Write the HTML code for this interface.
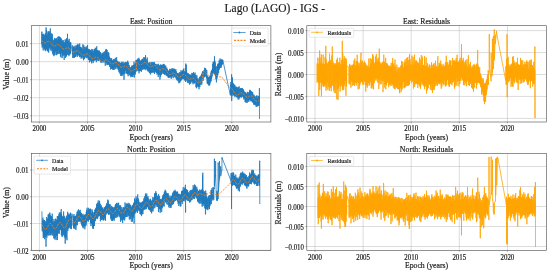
<!DOCTYPE html>
<html><head><meta charset="utf-8"><style>
html,body{margin:0;padding:0;background:#fff;}
body{width:550px;height:273px;overflow:hidden;}
svg{display:block;will-change:transform;}
text{font-family:"Liberation Serif", serif;fill:#1a1a1a;stroke:#1a1a1a;stroke-width:0.18px;}
.tk{font-size:7px;}
.ti{font-size:8px;}
.lg{font-size:6px;}
.mt{font-size:11px;}
</style></head><body>
<svg width="550" height="273" viewBox="0 0 550 273">
<path d="M39.40 25.7V122.0M87.50 25.7V122.0M135.60 25.7V122.0M183.70 25.7V122.0M231.80 25.7V122.0M31.4 43.60H270.9M31.4 61.65H270.9M31.4 79.70H270.9M31.4 97.75H270.9M31.4 115.80H270.9" stroke="#b0b0b0" stroke-width="0.45" fill="none"/>
<polyline points="41.53,44.09 41.67,33.75 41.87,31.93 42.01,43.79 42.21,47.59 42.35,35.41 42.56,34.06 42.69,46.26 42.90,37.44 43.03,47.13 43.24,50.40 43.37,34.15 43.58,45.97 43.72,33.82 43.92,36.17 44.06,48.20 44.26,35.24 44.40,49.28 44.60,37.41 44.74,48.09 44.94,35.27 45.08,50.46 45.28,46.00 45.42,33.23 45.63,51.13 45.76,35.83 45.97,47.99 46.10,27.47 46.31,49.64 46.44,29.92 46.65,33.19 46.79,48.83 46.99,33.88 47.13,48.88 47.33,50.77 47.47,35.22 47.67,50.44 47.81,34.44 48.01,31.32 48.15,51.86 48.36,32.19 48.49,45.99 48.70,52.64 48.83,31.29 49.04,32.34 49.17,47.91 49.38,33.04 49.52,47.40 49.72,31.83 49.86,45.53 50.06,49.47 50.20,32.08 50.40,28.41 50.54,47.56 50.74,37.26 50.88,50.21 51.08,33.57 51.22,43.63 51.43,48.29 51.56,36.22 51.77,33.48 51.90,51.29 52.11,49.05 52.24,37.80 52.45,34.41 52.59,52.10 52.79,53.54 52.93,40.07 53.13,42.81 53.27,54.88 53.47,54.11 53.61,40.25 53.81,40.58 53.95,56.20 54.16,53.90 54.29,39.03 54.50,54.05 54.63,37.98 54.84,40.27 54.97,55.04 55.18,39.16 55.32,52.17 55.52,52.08 55.66,38.55 55.86,38.74 56.00,52.01 56.20,39.53 56.34,55.18 56.54,50.83 56.68,37.92 56.88,39.05 57.02,54.35 57.23,41.02 57.36,52.87 57.57,40.21 57.70,53.67 57.91,37.04 58.04,49.53 58.25,40.12 58.39,49.86 58.59,37.62 58.73,53.90 58.93,36.49 59.07,49.39 59.27,41.97 59.41,53.51 59.61,36.94 59.75,47.55 59.96,53.24 60.09,38.13 60.30,40.30 60.43,56.33 60.64,37.33 60.77,54.39 60.98,57.31 61.12,38.87 61.32,43.04 61.46,51.89 61.66,39.28 61.80,53.44 62.00,44.44 62.14,58.12 62.34,55.16 62.48,40.43 62.68,54.52 62.82,41.95 63.03,56.04 63.16,42.71 63.37,54.48 63.50,43.62 63.71,40.14 63.84,54.65 64.05,44.62 64.19,59.51 64.39,43.56 64.53,54.44 64.73,42.60 64.87,54.82 65.07,54.76 65.21,39.27 65.41,43.51 65.55,57.45 65.76,41.36 65.89,54.59 66.10,56.20 66.23,39.96 66.44,56.46 66.57,38.62 66.78,42.39 66.92,53.06 67.12,54.11 67.26,40.89 67.46,37.40 67.50,34.10 67.60,54.72 67.80,53.76 67.94,40.26 68.14,42.62 68.28,54.79 68.48,55.07 68.62,42.82 68.83,41.03 68.96,56.15 69.17,39.06 69.30,52.10 69.51,53.65 69.64,44.05 69.85,54.64 69.99,42.81 70.19,52.50 70.33,42.40 70.53,53.94 70.67,42.20 72.53,54.06 72.67,45.76 72.87,57.79 73.00,47.66 73.20,58.04 73.34,49.11 73.54,54.95 73.67,46.80 73.87,46.48 74.00,57.19 74.20,46.98 74.34,57.92 74.54,55.95 74.67,48.47 74.87,48.43 75.01,56.88 75.21,45.47 75.34,56.91 75.54,54.71 75.68,48.82 75.88,48.26 76.01,56.41 76.21,54.42 76.34,45.62 76.54,54.26 76.68,46.34 76.88,54.58 77.01,46.07 77.21,44.63 77.35,56.88 77.55,45.42 77.68,54.27 77.88,43.84 78.02,55.29 78.22,46.42 78.35,54.68 78.55,54.85 78.68,45.67 78.88,44.71 79.02,55.63 79.22,47.09 79.35,54.59 79.55,57.16 79.69,43.83 79.89,55.18 80.02,48.02 80.22,56.07 80.36,46.88 80.56,47.79 80.69,56.59 80.89,47.62 81.02,58.65 81.22,58.22 81.36,47.65 81.56,58.04 81.69,48.25 81.89,57.90 82.03,49.25 82.23,49.21 82.36,56.41 82.56,56.61 82.70,50.59 82.90,44.68 83.03,56.28 83.23,59.00 83.36,50.04 83.56,60.01 83.70,45.14 83.90,56.98 84.03,49.89 84.23,49.09 84.37,55.10 84.57,58.66 84.70,46.78 84.90,57.35 85.04,49.47 85.24,57.01 85.37,47.52 85.57,47.86 85.70,54.66 85.91,55.54 86.04,47.27 86.24,46.73 86.37,57.35 86.57,57.97 86.71,47.79 86.91,55.00 87.04,48.90 87.24,58.34 87.38,49.32 87.58,44.95 87.71,56.72 87.91,57.17 88.04,48.72 88.25,49.14 88.38,55.72 88.58,60.02 88.71,49.51 88.91,59.37 89.05,49.54 89.25,50.46 89.38,62.34 89.58,60.58 89.72,49.70 89.92,60.32 90.05,51.53 90.25,50.63 90.38,59.65 90.59,57.12 90.72,49.98 90.92,61.23 91.05,53.16 91.25,51.93 91.39,60.77 91.59,63.35 91.72,49.42 91.92,59.36 92.06,52.03 92.26,60.93 92.39,51.10 92.59,61.04 92.72,50.40 92.93,49.12 93.06,63.12 93.26,60.21 93.39,52.10 93.59,61.48 93.73,52.85 93.93,50.45 94.06,59.49 94.26,60.73 94.40,50.91 94.60,49.00 94.73,59.86 94.93,50.29 95.06,60.06 95.27,47.77 95.40,60.50 95.60,50.53 95.73,58.32 95.93,48.05 96.07,59.65 96.27,51.13 96.40,62.20 96.60,58.75 96.74,46.30 96.94,59.35 97.07,50.15 97.27,60.18 97.40,50.29 97.61,58.03 97.74,50.44 97.94,50.71 98.07,59.17 98.27,50.95 98.41,60.99 98.61,52.69 98.74,60.97 98.94,58.28 99.08,50.30 99.28,59.21 99.41,51.41 99.61,59.65 99.75,51.93 99.95,59.76 100.08,53.14 100.28,60.72 100.41,52.18 100.61,54.71 100.75,59.36 100.95,62.72 101.08,53.48 101.28,62.33 101.42,54.99 101.62,55.64 101.75,60.52 101.95,61.40 102.09,53.60 102.29,52.77 102.42,62.29 102.62,62.03 102.75,52.95 102.95,61.00 103.09,54.75 103.29,62.17 103.42,53.41 103.62,52.55 103.76,61.96 103.96,62.53 104.09,51.79 104.29,53.12 104.43,60.63 104.63,61.12 104.76,51.48 104.96,53.16 105.09,61.00 105.29,65.84 105.43,50.91 105.63,59.44 105.76,49.43 105.96,62.54 106.10,52.82 106.30,61.20 106.43,49.06 106.60,51.00 106.63,63.22 106.77,52.69 106.97,64.75 107.10,50.37 107.30,54.82 107.43,62.73 107.63,64.63 107.77,54.06 107.97,52.73 108.10,64.94 108.30,52.30 108.44,63.88 108.64,63.26 108.77,53.00 108.97,55.46 109.11,64.75 109.31,56.63 109.44,65.38 109.64,66.82 109.77,57.66 109.97,65.41 110.11,58.14 110.31,60.48 110.44,67.03 110.64,69.14 110.78,59.26 110.98,59.24 111.11,66.94 111.31,58.80 111.45,68.88 111.65,58.19 111.78,67.32 111.98,60.79 112.11,67.87 112.31,61.03 112.45,69.60 112.65,60.72 112.78,67.11 112.98,60.25 113.12,67.15 113.32,69.37 113.45,61.33 113.65,59.20 113.79,69.42 113.99,59.08 114.12,69.84 114.32,67.78 114.45,60.60 114.65,67.88 114.79,60.26 114.99,67.40 115.12,59.31 115.32,58.17 115.46,68.42 115.66,69.10 115.79,60.30 115.99,60.09 116.13,67.16 116.33,66.95 116.46,58.92 116.66,57.10 116.79,66.64 116.99,68.47 117.13,61.42 117.33,60.74 117.46,67.57 117.66,66.94 117.80,61.34 118.00,69.33 118.13,62.66 118.33,69.29 118.47,62.14 118.67,63.04 118.80,69.89 119.00,72.32 119.13,62.09 119.33,63.86 119.47,71.37 119.67,62.65 119.80,70.96 120.00,73.90 120.14,63.29 120.34,65.60 120.47,74.73 120.67,75.42 120.81,62.91 121.01,71.75 121.14,63.81 121.34,62.58 121.47,75.14 121.68,62.86 121.81,75.63 122.01,62.01 122.14,74.32 122.34,75.54 122.48,63.55 122.68,74.27 122.81,63.73 123.01,72.54 123.15,62.08 123.35,64.11 123.48,73.89 123.68,64.66 123.81,72.65 124.02,79.38 124.15,63.63 124.35,72.12 124.48,63.99 124.68,74.13 124.82,63.81 125.02,62.37 125.15,70.24 125.35,62.07 125.49,69.94 125.69,70.70 125.82,63.57 126.02,73.45 126.15,63.11 126.36,62.88 126.49,73.07 126.69,72.53 126.82,62.21 127.02,73.47 127.16,62.30 127.36,74.20 127.49,64.61 127.69,60.72 127.83,73.10 128.03,67.49 128.16,76.26 128.36,62.42 128.49,73.91 128.70,67.11 128.83,73.21 129.03,72.95 129.16,65.16 129.36,65.06 129.50,75.10 129.70,74.87 129.83,68.78 130.03,67.40 130.17,75.02 130.37,75.67 130.50,67.50 130.70,69.24 130.83,77.23 131.04,75.29 131.17,67.19 131.37,69.23 131.50,76.09 131.70,65.74 131.84,75.26 132.04,67.81 132.17,74.84 132.37,65.77 132.51,76.78 132.71,67.23 132.84,76.02 133.04,76.55 133.17,65.72 133.38,74.97 133.51,65.27 133.71,74.38 133.84,68.10 134.04,61.67 134.18,74.06 134.38,77.57 134.51,64.33 134.71,74.14 134.85,65.26 135.05,74.64 135.18,65.54 135.38,73.04 135.51,65.14 135.72,63.06 135.85,71.71 136.05,59.99 136.18,70.04 136.38,61.91 136.52,69.45 136.72,60.62 136.85,71.26 137.05,59.96 137.19,70.46 137.39,69.74 137.52,59.63 137.72,58.64 137.86,68.28 138.06,67.26 138.19,59.85 138.39,59.22 138.52,70.82 138.72,69.99 138.86,57.79 139.06,73.29 139.19,59.11 139.39,62.23 139.53,70.57 139.73,61.62 139.86,70.02 140.06,71.04 140.20,60.52 140.40,60.94 140.53,70.94 140.73,60.77 140.86,67.14 141.06,61.93 141.20,68.45 141.40,60.51 141.53,71.32 141.73,69.00 141.87,59.97 142.07,67.82 142.20,59.25 142.40,70.00 142.54,58.75 142.74,60.22 142.87,68.63 143.07,68.61 143.20,61.51 143.40,68.47 143.54,60.23 143.74,57.26 143.87,69.50 144.07,59.26 144.21,69.18 144.41,68.25 144.54,57.40 144.74,68.58 144.88,58.54 145.08,57.94 145.21,66.23 145.41,68.84 145.54,55.57 145.74,59.24 145.88,69.96 146.08,67.87 146.21,59.39 146.41,60.23 146.55,67.43 146.75,69.10 146.88,61.13 147.08,68.56 147.22,57.55 147.42,62.01 147.55,69.82 147.75,70.76 147.88,62.84 148.08,71.54 148.22,63.20 148.42,70.34 148.55,63.33 148.75,70.97 148.89,63.59 149.09,71.81 149.22,62.23 149.42,73.25 149.56,63.87 149.76,72.61 149.89,63.85 150.09,62.84 150.22,70.58 150.42,65.53 150.56,74.45 150.76,70.62 150.89,65.39 151.09,72.43 151.23,61.97 151.43,72.68 151.56,64.11 151.76,63.14 151.90,70.45 152.10,73.02 152.23,64.32 152.43,64.14 152.56,72.21 152.76,62.13 152.90,70.22 153.10,62.46 153.23,71.49 153.43,69.98 153.57,63.30 153.77,72.23 153.90,64.06 154.10,72.35 154.24,62.10 154.44,62.75 154.57,74.07 154.77,63.67 154.90,71.00 155.10,64.71 155.24,70.98 155.44,65.28 155.57,71.68 155.77,64.28 155.91,70.75 156.11,72.53 156.24,66.02 156.44,65.60 156.58,72.99 156.78,73.04 156.91,64.40 157.11,74.63 157.24,65.63 157.44,72.72 157.58,64.73 157.78,65.55 157.91,74.00 158.11,67.62 158.25,76.96 158.45,63.82 158.58,74.78 158.78,73.70 158.92,65.52 159.12,68.59 159.25,73.95 159.45,75.01 159.58,67.44 159.79,65.72 159.92,79.58 160.12,74.46 160.25,67.10 160.45,64.61 160.59,76.73 160.79,74.06 160.92,66.89 161.12,64.64 161.26,74.97 161.46,71.69 161.59,65.34 161.79,65.79 161.92,73.47 162.13,65.28 162.26,71.34 162.46,65.01 162.59,71.76 162.79,64.90 162.93,73.51 163.13,71.61 163.26,65.95 163.46,64.24 163.60,70.79 163.80,74.04 163.93,65.65 164.13,73.82 164.26,64.17 164.47,74.75 164.60,65.59 164.80,66.78 164.93,72.73 165.13,66.43 165.27,72.97 165.47,74.50 165.60,66.41 165.80,65.49 165.94,73.65 166.14,68.64 166.27,75.80 166.47,68.15 166.60,74.45 166.81,67.58 166.94,75.27 167.14,76.23 167.27,69.33 167.47,69.44 167.61,75.79 167.81,70.64 167.94,76.67 168.14,70.95 168.28,77.67 168.48,77.03 168.61,71.28 168.81,71.00 168.94,76.47 169.15,71.66 169.28,77.08 169.48,70.62 169.61,77.48 169.81,69.26 169.95,77.07 170.15,69.37 170.28,76.68 170.48,77.02 170.62,71.14 170.82,77.57 170.95,69.96 171.15,70.74 171.28,78.45 171.49,76.87 171.62,69.75 171.82,68.96 171.95,75.73 172.15,68.41 172.29,76.42 172.49,75.71 172.62,68.69 172.82,70.30 172.96,75.30 173.16,78.19 173.29,70.30 173.49,69.10 173.62,74.32 173.83,68.84 173.96,77.05 174.16,75.90 174.29,69.22 174.49,76.16 174.63,69.85 174.83,71.47 174.96,74.99 175.16,70.29 175.30,77.47 175.50,75.57 175.63,70.96 175.83,69.53 175.97,77.83 176.17,78.72 176.30,71.26 176.50,71.68 176.63,79.38 176.83,80.16 176.97,73.31 177.17,79.11 177.30,73.16 177.50,80.17 177.64,73.18 177.84,79.80 177.97,73.09 178.17,73.78 178.31,81.56 178.51,74.06 178.64,78.55 178.84,74.71 178.97,83.02 179.17,79.59 179.31,72.15 179.51,72.99 179.64,82.70 179.84,73.50 179.98,82.27 180.18,80.10 180.31,72.08 180.51,72.41 180.65,80.82 180.85,79.43 180.98,70.19 181.18,74.06 181.31,80.37 181.51,78.15 181.65,71.36 181.85,78.94 181.98,72.81 182.18,78.72 182.32,72.05 182.52,77.71 182.65,70.90 182.85,78.61 182.99,69.92 183.19,79.20 183.32,69.61 183.52,78.21 183.65,69.72 183.85,68.84 183.99,79.08 184.19,71.67 184.32,77.78 184.52,71.94 184.66,79.94 184.86,80.00 184.99,72.33 185.19,78.83 185.33,71.33 185.53,81.99 185.66,69.00 185.80,63.90 185.86,71.77 185.99,79.78 186.19,71.66 186.30,65.20 186.33,78.25 186.53,70.42 186.66,79.30 186.86,73.27 187.00,81.49 187.20,72.69 187.33,80.38 187.53,74.73 187.67,82.60 187.87,82.45 188.00,73.40 188.20,73.08 188.33,82.12 188.53,83.08 188.67,75.67 188.87,74.12 189.00,81.32 189.20,74.94 189.34,82.82 189.54,84.66 189.67,77.03 189.87,74.26 190.01,82.07 190.21,74.89 190.34,82.26 190.54,75.62 190.67,83.47 190.87,82.93 191.01,75.56 191.21,80.78 191.34,74.85 191.54,76.86 191.68,81.50 191.88,73.27 192.01,80.54 192.21,82.42 192.35,74.49 192.55,81.18 192.68,73.59 192.88,73.00 193.01,84.24 193.21,73.62 193.35,82.23 193.55,71.98 193.68,82.00 193.88,81.71 194.02,74.90 194.22,83.61 194.35,74.01 194.55,76.71 194.69,82.55 194.89,82.15 195.02,72.91 195.22,74.77 195.35,81.43 195.55,76.53 195.69,82.28 195.89,75.03 196.02,86.83 196.22,77.46 196.36,87.91 196.56,78.52 196.69,86.34 196.89,75.38 197.03,87.30 197.23,79.00 197.36,85.03 197.56,78.85 197.69,85.66 197.90,86.10 198.03,79.75 198.23,78.39 198.36,86.45 198.56,86.58 198.70,81.85 198.90,80.99 199.03,89.24 199.23,79.80 199.37,86.84 199.57,76.83 199.70,86.28 199.90,86.63 200.03,77.40 200.24,80.27 200.37,84.87 200.57,83.35 200.70,75.70 200.90,83.38 201.04,76.63 201.24,75.90 201.37,81.33 201.57,74.18 201.71,84.74 201.91,82.57 202.04,74.86 202.24,72.80 202.37,80.42 202.58,72.38 202.71,79.17 202.91,71.05 203.04,80.92 203.24,77.88 203.38,71.08 203.58,76.29 203.71,71.86 203.91,70.51 204.05,77.60 204.25,70.45 204.38,76.71 204.58,75.88 204.71,67.80 204.92,74.87 205.05,68.13 205.25,69.01 205.38,73.69 205.58,76.41 205.72,68.67 205.92,68.93 206.05,76.28 206.25,77.02 206.39,72.17 206.59,78.46 206.72,70.15 206.92,74.34 207.05,80.85 207.26,83.66 207.39,75.67 207.59,83.46 207.72,77.52 207.92,78.71 208.06,83.63 208.26,84.53 208.39,77.60 208.59,76.75 208.73,84.58 208.93,77.58 209.06,85.44 209.26,78.16 209.39,84.73 209.60,76.82 209.73,84.97 209.93,82.77 210.06,76.79 210.26,82.59 210.40,75.62 210.60,81.01 210.73,75.64 210.93,72.65 211.07,80.95 211.27,71.11 211.40,78.74 211.60,70.31 211.74,77.88 211.94,70.15 212.07,76.18 212.27,73.98 212.40,68.38 212.60,73.54 212.74,63.90 212.94,73.71 213.07,62.31 213.27,61.82 213.41,72.03 213.61,62.22 213.74,72.46 213.94,69.46 214.08,61.47 214.28,72.40 214.41,60.32 214.50,56.60 214.61,73.56 214.74,60.79 214.94,62.03 215.08,74.67 215.28,62.50 215.41,76.26 215.61,67.19 215.75,75.09 215.95,79.03 216.08,66.19 216.28,68.45 216.42,82.38 216.62,79.40 216.75,71.64 216.95,78.59 217.08,67.14 217.28,65.91 217.42,76.80 217.62,64.31 217.75,74.73 217.95,75.12 218.09,63.59 218.29,71.31 218.42,64.03 218.62,72.93 218.76,63.82 218.96,68.85 219.09,60.74 219.29,60.61 219.42,69.54 219.62,61.50 219.76,68.15 219.96,66.65 220.09,58.43 220.29,67.62 220.43,60.00 220.63,60.34 220.76,64.65 220.96,60.26 221.10,67.44 221.30,60.42 221.43,66.24 221.63,64.47 221.76,59.65 221.96,64.81 222.10,59.68 222.30,63.87 222.43,60.46 222.63,63.84 222.77,59.92 230.33,95.21 230.47,85.21 230.67,94.46 230.81,82.57 231.01,82.49 231.15,95.56 231.35,84.80 231.49,95.81 231.60,74.70 231.69,92.49 231.70,100.60 231.83,81.30 232.03,96.12 232.17,82.85 232.37,93.01 232.51,77.48 232.71,93.76 232.85,83.22 233.05,85.62 233.19,94.39 233.39,83.51 233.53,95.15 233.73,94.96 233.87,85.51 234.07,85.33 234.21,95.73 234.41,93.42 234.55,84.63 234.75,96.78 234.89,85.41 235.09,95.74 235.23,87.49 235.43,95.84 235.57,88.36 235.77,95.86 235.91,86.53 236.11,88.21 236.25,96.78 236.45,96.02 236.59,86.88 236.79,96.69 236.93,88.41 237.13,88.36 237.27,97.74 237.47,96.15 237.61,88.87 237.81,96.97 237.95,86.98 238.15,99.52 238.29,87.21 238.49,95.27 238.63,90.31 238.83,89.82 238.97,99.39 239.17,86.35 239.31,96.10 239.51,97.90 239.65,89.38 239.85,90.15 239.99,97.31 240.19,96.11 240.33,88.65 240.53,96.84 240.67,88.86 240.87,97.02 241.01,88.25 241.21,97.25 241.35,88.63 241.55,89.80 241.69,95.51 241.89,94.96 242.03,89.01 242.23,96.64 242.37,87.95 242.57,90.64 242.71,96.56 242.91,96.45 243.05,90.39 243.25,91.82 243.39,97.03 243.59,89.66 243.73,98.18 243.93,90.96 244.07,99.34 244.27,98.24 244.41,92.46 244.61,98.01 244.75,91.96 244.95,93.90 245.09,102.13 245.29,100.40 245.43,92.96 245.63,101.26 245.77,92.68 245.97,93.62 246.11,102.88 246.31,93.98 246.45,101.27 246.65,99.19 246.79,93.88 246.99,94.44 247.13,102.87 247.33,101.70 247.47,92.56 247.67,92.22 247.81,98.96 248.01,101.77 248.15,92.27 248.35,93.36 248.49,100.41 248.69,94.26 248.83,101.72 249.03,100.23 249.17,92.25 249.37,100.05 249.51,91.10 249.71,100.09 249.85,89.83 250.05,92.26 250.19,99.33 250.39,90.34 250.53,100.66 250.73,98.42 250.87,92.01 251.07,101.39 251.21,91.55 251.41,91.12 251.55,100.82 251.75,98.80 251.89,91.92 252.09,91.81 252.23,102.03 252.43,101.81 252.57,92.76 252.77,92.66 252.91,102.13 253.11,94.86 253.25,102.37 253.45,95.77 253.59,104.57 253.79,102.35 253.93,94.47 254.13,97.67 254.27,102.36 254.47,104.56 254.61,97.40 254.81,103.78 254.95,96.18 255.15,104.75 255.29,96.60 255.49,97.79 255.63,104.33 255.83,98.52 255.97,106.48 256.17,103.76 256.31,98.05 256.51,95.86 256.65,103.94 256.85,106.92 256.99,95.30 257.19,105.77 257.33,98.80 257.53,104.61 257.67,98.29 257.87,106.23 258.01,96.42 258.21,96.83 258.35,105.83 258.55,96.54 258.69,103.51 258.89,97.20 259.03,104.82 259.23,96.06 259.37,102.23 259.40,88.50 259.50,118.30" fill="none" stroke="#1e7abe" stroke-width="0.8" stroke-linejoin="round" />
<path d="M41.87 31.93h0M42.01 43.79h0M42.56 34.06h0M42.69 46.26h0M43.58 45.97h0M44.94 35.27h0M45.76 35.83h0M47.47 35.22h0M47.67 50.44h0M48.49 45.99h0M49.72 31.83h0M50.88 50.21h0M51.43 48.29h0M52.59 52.10h0M52.79 53.54h0M53.27 54.88h0M54.50 54.05h0M56.20 39.53h0M56.54 50.83h0M56.88 39.05h0M57.02 54.35h0M57.57 40.21h0M57.91 37.04h0M58.93 36.49h0M59.07 49.39h0M59.96 53.24h0M61.12 38.87h0M61.46 51.89h0M62.68 54.52h0M63.50 43.62h0M63.84 54.65h0M64.19 59.51h0M64.53 54.44h0M64.73 42.60h0M65.07 54.76h0M65.55 57.45h0M66.57 38.62h0M66.78 42.39h0M67.12 54.11h0M67.80 53.76h0M68.62 42.82h0M68.83 41.03h0M69.17 39.06h0M70.19 52.50h0M72.67 45.76h0M74.20 46.98h0M74.67 48.47h0M78.35 54.68h0M78.68 45.67h0M79.35 54.59h0M79.69 43.83h0M80.02 48.02h0M80.22 56.07h0M80.89 47.62h0M81.69 48.25h0M82.90 44.68h0M83.56 60.01h0M84.57 58.66h0M85.24 57.01h0M86.24 46.73h0M87.04 48.90h0M87.71 56.72h0M89.05 49.54h0M90.05 51.53h0M90.25 50.63h0M90.38 59.65h0M90.92 61.23h0M91.39 60.77h0M91.72 49.42h0M92.39 51.10h0M93.39 52.10h0M95.73 58.32h0M97.27 60.18h0M98.61 52.69h0M99.28 59.21h0M99.95 59.76h0M100.28 60.72h0M101.62 55.64h0M101.95 61.40h0M102.62 62.03h0M102.95 61.00h0M103.09 54.75h0M106.97 64.75h0M107.10 50.37h0M107.43 62.73h0M107.97 52.73h0M108.44 63.88h0M110.64 69.14h0M111.98 60.79h0M112.11 67.87h0M112.78 67.11h0M112.98 60.25h0M113.32 69.37h0M113.45 61.33h0M115.12 59.31h0M115.32 58.17h0M115.79 60.30h0M117.13 61.42h0M118.80 69.89h0M119.13 62.09h0M120.14 63.29h0M120.34 65.60h0M120.67 75.42h0M121.81 75.63h0M122.01 62.01h0M123.15 62.08h0M123.48 73.89h0M123.81 72.65h0M124.02 79.38h0M124.15 63.63h0M124.48 63.99h0M125.49 69.94h0M126.36 62.88h0M127.02 73.47h0M128.03 67.49h0M129.70 74.87h0M131.04 75.29h0M131.37 69.23h0M131.50 76.09h0M132.17 74.84h0M132.37 65.77h0M133.04 76.55h0M133.71 74.38h0M133.84 68.10h0M134.51 64.33h0M134.85 65.26h0M135.38 73.04h0M136.18 70.04h0M136.72 60.62h0M137.05 59.96h0M138.06 67.26h0M138.52 70.82h0M140.06 71.04h0M141.53 71.32h0M141.87 59.97h0M142.74 60.22h0M144.74 68.58h0M145.54 55.57h0M145.88 69.96h0M148.89 63.59h0M150.09 62.84h0M150.22 70.58h0M150.89 65.39h0M152.23 64.32h0M153.10 62.46h0M153.77 72.23h0M154.44 62.75h0M155.10 64.71h0M155.44 65.28h0M155.57 71.68h0M155.77 64.28h0M155.91 70.75h0M156.91 64.40h0M157.44 72.72h0M159.12 68.59h0M159.58 67.44h0M159.79 65.72h0M160.25 67.10h0M161.46 71.69h0M161.79 65.79h0M161.92 73.47h0M162.46 65.01h0M163.46 64.24h0M163.93 65.65h0M164.93 72.73h0M165.13 66.43h0M165.94 73.65h0M167.81 70.64h0M168.28 77.67h0M168.81 71.00h0M168.94 76.47h0M169.15 71.66h0M169.28 77.08h0M169.81 69.26h0M170.15 69.37h0M170.62 71.14h0M171.28 78.45h0M171.62 69.75h0M171.82 68.96h0M172.49 75.71h0M173.83 68.84h0M173.96 77.05h0M174.29 69.22h0M174.63 69.85h0M174.96 74.99h0M175.50 75.57h0M175.83 69.53h0M176.97 73.31h0M177.50 80.17h0M178.17 73.78h0M178.84 74.71h0M178.97 83.02h0M179.17 79.59h0M181.51 78.15h0M181.85 78.94h0M181.98 72.81h0M182.52 77.71h0M183.85 68.84h0M184.19 71.67h0M184.32 77.78h0M184.66 79.94h0M184.86 80.00h0M184.99 72.33h0M185.66 69.00h0M185.86 71.77h0M187.33 80.38h0M187.87 82.45h0M188.67 75.67h0M189.00 81.32h0M190.34 82.26h0M190.54 75.62h0M190.67 83.47h0M191.21 80.78h0M191.88 73.27h0M192.55 81.18h0M193.35 82.23h0M193.68 82.00h0M194.35 74.01h0M194.69 82.55h0M195.02 72.91h0M195.55 76.53h0M195.89 75.03h0M196.36 87.91h0M196.69 86.34h0M197.23 79.00h0M197.36 85.03h0M198.36 86.45h0M199.90 86.63h0M200.03 77.40h0M200.90 83.38h0M201.04 76.63h0M201.37 81.33h0M201.91 82.57h0M202.04 74.86h0M202.24 72.80h0M202.37 80.42h0M202.58 72.38h0M203.71 71.86h0M207.05 80.85h0M208.93 77.58h0M209.06 85.44h0M209.60 76.82h0M209.93 82.77h0M210.06 76.79h0M211.07 80.95h0M212.94 73.71h0M213.41 72.03h0M213.74 72.46h0M214.61 73.56h0M214.74 60.79h0M215.08 74.67h0M215.75 75.09h0M215.95 79.03h0M218.76 63.82h0M219.09 60.74h0M220.96 60.26h0M221.10 67.44h0M221.30 60.42h0M221.76 59.65h0M222.43 60.46h0M222.63 63.84h0M230.47 85.21h0M230.81 82.57h0M231.01 82.49h0M231.35 84.80h0M233.19 94.39h0M233.73 94.96h0M234.07 85.33h0M235.43 95.84h0M236.25 96.78h0M236.45 96.02h0M237.61 88.87h0M238.49 95.27h0M238.63 90.31h0M239.31 96.10h0M239.65 89.38h0M240.33 88.65h0M241.21 97.25h0M241.35 88.63h0M243.59 89.66h0M243.73 98.18h0M244.07 99.34h0M244.41 92.46h0M244.95 93.90h0M245.77 92.68h0M246.79 93.88h0M247.67 92.22h0M247.81 98.96h0M248.69 94.26h0M249.51 91.10h0M250.05 92.26h0M250.73 98.42h0M251.75 98.80h0M252.23 102.03h0M252.43 101.81h0M252.57 92.76h0M252.77 92.66h0M254.13 97.67h0M255.15 104.75h0M257.53 104.61h0M258.21 96.83h0M259.03 104.82h0M259.23 96.06h0M67.50 34.10h0M106.60 51.00h0M185.80 63.90h0M186.30 65.20h0M214.50 56.60h0M231.60 74.70h0M231.70 100.60h0M259.40 88.50h0M259.50 118.30h0" stroke="#1e7abe" stroke-width="1.0" stroke-linecap="round" fill="none"/>
<polyline points="41.60,40.32 41.84,40.62 42.08,40.92 42.33,41.21 42.57,41.49 42.81,41.75 43.05,41.99 43.30,42.21 43.54,42.40 43.78,42.56 44.02,42.68 44.26,42.77 44.51,42.82 44.75,42.84 44.99,42.82 45.23,42.78 45.47,42.71 45.72,42.61 45.96,42.50 46.20,42.37 46.44,42.23 46.69,42.09 46.93,41.95 47.17,41.81 47.41,41.69 47.65,41.59 47.90,41.51 48.14,41.45 48.38,41.42 48.62,41.43 48.86,41.47 49.11,41.54 49.35,41.65 49.59,41.80 49.83,41.97 50.08,42.18 50.32,42.41 50.56,42.67 50.80,42.94 51.04,43.23 51.29,43.53 51.53,43.83 51.77,44.13 52.01,44.42 52.25,44.69 52.50,44.95 52.74,45.19 52.98,45.40 53.22,45.58 53.47,45.72 53.71,45.84 53.95,45.91 54.19,45.96 54.43,45.97 54.68,45.94 54.92,45.89 55.16,45.81 55.40,45.71 55.65,45.59 55.89,45.46 56.13,45.32 56.37,45.18 56.61,45.04 56.86,44.91 57.10,44.79 57.34,44.69 57.58,44.62 57.82,44.57 58.07,44.55 58.31,44.57 58.55,44.62 58.79,44.70 59.04,44.82 59.28,44.97 59.52,45.16 59.76,45.37 60.00,45.61 60.25,45.87 60.49,46.15 60.73,46.44 60.97,46.74 61.21,47.04 61.46,47.34 61.70,47.62 61.94,47.90 62.18,48.15 62.43,48.38 62.67,48.58 62.91,48.75 63.15,48.89 63.39,48.99 63.64,49.06 63.88,49.09 64.12,49.09 64.36,49.06 64.61,49.00 64.85,48.92 65.09,48.81 65.33,48.69 65.57,48.55 65.82,48.41 66.06,48.27 66.30,48.13 66.54,48.00 66.78,47.89 67.03,47.80 67.27,47.73 67.51,47.69 67.75,47.68 68.00,47.71 68.24,47.77 68.48,47.86 68.72,47.99 68.96,48.15 69.21,48.34 69.45,48.56 69.69,48.81 69.93,49.08 70.17,49.36 70.42,49.65 70.66,49.95 70.90,50.25 71.14,50.55 71.39,50.83 71.63,51.10 71.87,51.34 72.11,51.56 72.35,51.76 72.60,51.92 72.84,52.05 73.08,52.14 73.32,52.20 73.56,52.23 73.81,52.22 74.05,52.18 74.29,52.11 74.53,52.02 74.78,51.91 75.02,51.78 75.26,51.64 75.50,51.50 75.74,51.36 75.99,51.22 76.23,51.10 76.47,50.99 76.71,50.91 76.96,50.85 77.20,50.82 77.44,50.82 77.68,50.85 77.92,50.92 78.17,51.02 78.41,51.16 78.65,51.33 78.89,51.53 79.13,51.76 79.38,52.01 79.62,52.28 79.86,52.57 80.10,52.87 80.35,53.17 80.59,53.46 80.83,53.75 81.07,54.03 81.31,54.30 81.56,54.54 81.80,54.75 82.04,54.93 82.28,55.09 82.52,55.21 82.77,55.29 83.01,55.34 83.25,55.36 83.49,55.34 83.74,55.29 83.98,55.22 84.22,55.12 84.46,55.00 84.70,54.87 84.95,54.73 85.19,54.59 85.43,54.45 85.67,54.32 85.91,54.20 86.16,54.10 86.40,54.02 86.64,53.97 86.88,53.94 87.13,53.95 87.37,54.00 87.61,54.07 87.85,54.19 88.09,54.33 88.34,54.51 88.58,54.72 88.82,54.96 89.06,55.21 89.31,55.49 89.55,55.78 89.79,56.08 90.03,56.38 90.27,56.67 90.52,56.96 90.76,57.24 91.00,57.49 91.24,57.73 91.48,57.93 91.73,58.11 91.97,58.25 92.21,58.36 92.45,58.44 92.70,58.48 92.94,58.48 93.18,58.46 93.42,58.40 93.66,58.32 93.91,58.22 94.15,58.10 94.39,57.97 94.63,57.82 94.87,57.68 95.12,57.54 95.36,57.41 95.60,57.30 95.84,57.20 96.09,57.13 96.33,57.09 96.57,57.07 96.81,57.09 97.05,57.14 97.30,57.23 97.54,57.35 97.78,57.51 98.02,57.70 98.26,57.91 98.51,58.15 98.75,58.42 98.99,58.70 99.23,58.99 99.48,59.29 99.72,59.59 99.96,59.88 100.20,60.16 100.44,60.41 100.69,60.65 100.93,60.86 101.17,61.05 101.41,61.20 101.66,61.32 101.90,61.41 102.14,61.46 102.38,61.47 102.62,61.46 102.87,61.41 103.11,61.33 103.35,61.23 103.59,61.11 103.83,60.97 104.08,60.82 104.32,60.66 104.56,60.51 104.80,60.36 105.05,60.21 105.29,60.09 105.53,59.99 105.77,59.91 106.01,59.86 106.26,59.84 106.50,59.85 106.74,59.90 106.98,59.98 107.22,60.10 107.47,60.25 107.71,60.43 107.95,60.64 108.19,60.87 108.44,61.13 108.68,61.40 108.92,61.68 109.16,61.96 109.40,62.25 109.65,62.53 109.89,62.79 110.13,63.05 110.37,63.28 110.62,63.48 110.86,63.66 111.10,63.80 111.34,63.91 111.58,63.99 111.83,64.03 112.07,64.04 112.31,64.01 112.55,63.96 112.79,63.87 113.04,63.76 113.28,63.64 113.52,63.49 113.76,63.34 114.01,63.18 114.25,63.03 114.49,62.88 114.73,62.74 114.97,62.63 115.22,62.55 115.46,62.51 115.70,62.49 115.94,62.51 116.18,62.56 116.43,62.64 116.67,62.76 116.91,62.91 117.15,63.10 117.40,63.32 117.64,63.56 117.88,63.83 118.12,64.11 118.36,64.41 118.61,64.72 118.85,65.03 119.09,65.35 119.33,65.65 119.57,65.94 119.82,66.21 120.06,66.46 120.30,66.69 120.54,66.88 120.79,67.04 121.03,67.17 121.27,67.27 121.51,67.32 121.75,67.35 122.00,67.34 122.24,67.30 122.48,67.24 122.72,67.15 122.97,67.05 123.21,66.93 123.45,66.80 123.69,66.67 123.93,66.55 124.18,66.43 124.42,66.32 124.66,66.23 124.90,66.17 125.14,66.13 125.39,66.13 125.63,66.15 125.87,66.21 126.11,66.30 126.36,66.43 126.60,66.60 126.84,66.79 127.08,67.01 127.32,67.26 127.57,67.54 127.81,67.83 128.05,68.13 128.29,68.44 128.53,68.75 128.78,69.06 129.02,69.36 129.26,69.65 129.50,69.92 129.75,70.16 129.99,70.38 130.23,70.56 130.47,70.72 130.71,70.83 130.96,70.92 131.20,70.97 131.44,70.98 131.68,70.97 131.92,70.92 132.17,70.85 132.41,70.76 132.65,70.65 132.89,70.53 133.14,70.38 133.38,70.21 133.62,70.04 133.86,69.88 134.10,69.74 134.35,69.62 134.59,69.52 134.83,69.45 135.07,69.41 135.32,69.40 135.56,69.43 135.80,69.49 136.04,69.59 136.28,69.72 136.53,64.94 136.77,62.20 137.01,62.38 137.25,62.58 137.49,62.80 137.74,63.03 137.98,63.26 138.22,63.50 138.46,63.73 138.71,63.95 138.95,64.15 139.19,64.34 139.43,64.50 139.67,64.63 139.92,64.73 140.16,64.79 140.40,64.83 140.64,64.82 140.88,64.79 141.13,64.72 141.37,64.62 141.61,64.49 141.85,64.33 142.10,64.16 142.34,63.97 142.58,63.77 142.82,63.56 143.06,63.35 143.31,63.15 143.55,62.96 143.79,62.79 144.03,62.64 144.27,62.51 144.52,62.41 144.76,62.35 145.00,62.31 145.24,62.38 145.49,62.48 145.73,62.61 145.97,62.78 146.21,62.98 146.45,63.20 146.70,63.45 146.94,63.72 147.18,64.01 147.42,64.30 147.67,64.60 147.91,64.90 148.15,65.19 148.39,65.47 148.63,65.73 148.88,65.97 149.12,66.19 149.36,66.38 149.60,66.53 149.84,66.65 150.09,66.74 150.33,66.79 150.57,66.81 150.81,66.79 151.06,66.75 151.30,66.67 151.54,66.58 151.78,66.46 152.02,66.33 152.27,66.19 152.51,66.05 152.75,65.91 152.99,65.77 153.23,65.65 153.48,65.55 153.72,65.47 153.96,65.41 154.20,65.38 154.45,65.39 154.69,65.43 154.93,65.50 155.17,65.61 155.41,65.75 155.66,65.93 155.90,66.14 156.14,66.37 156.38,66.62 156.63,66.90 156.87,67.19 157.11,67.48 157.35,67.78 157.59,68.08 157.84,68.37 158.08,68.64 158.32,68.90 158.56,69.13 158.80,69.34 159.05,69.52 159.29,69.67 159.53,69.78 159.77,69.86 160.02,69.90 160.26,69.91 160.50,69.88 160.74,69.83 160.98,69.75 161.23,69.65 161.47,69.53 161.71,69.39 161.95,69.25 162.19,69.11 162.44,68.97 162.68,68.84 162.92,68.72 163.16,68.66 163.41,68.64 163.65,68.65 163.89,68.69 164.13,68.76 164.37,68.87 164.62,69.01 164.86,69.18 165.10,69.39 165.34,69.63 165.58,69.90 165.83,70.20 166.07,70.52 166.31,70.85 166.55,71.20 166.80,71.56 167.04,71.91 167.28,72.26 167.52,72.61 167.76,72.93 168.01,73.24 168.25,73.53 168.49,73.78 168.73,74.01 168.98,74.20 169.22,74.36 169.46,74.49 169.70,74.58 169.94,74.63 170.19,74.60 170.43,74.53 170.67,74.42 170.91,74.30 171.15,74.16 171.40,74.01 171.64,73.85 171.88,73.70 172.12,73.54 172.37,73.40 172.61,73.27 172.85,73.17 173.09,73.08 173.33,73.03 173.58,73.00 173.82,73.01 174.06,73.06 174.30,73.13 174.54,73.25 174.79,73.39 175.03,73.57 175.27,73.78 175.51,74.01 175.76,74.26 176.00,74.53 176.24,74.80 176.48,75.09 176.72,75.37 176.97,75.65 177.21,75.92 177.45,76.17 177.69,76.40 177.93,76.60 178.18,76.78 178.42,76.92 178.66,77.04 178.90,77.11 179.15,77.16 179.39,77.17 179.63,77.14 179.87,77.09 180.11,76.97 180.36,76.79 180.60,76.59 180.84,76.38 181.08,76.15 181.33,75.92 181.57,75.70 181.81,75.47 182.05,75.26 182.29,75.07 182.54,74.90 182.78,74.75 183.02,74.63 183.26,74.55 183.50,74.49 183.75,74.48 183.99,74.49 184.23,74.54 184.47,74.63 184.72,74.74 184.96,74.88 185.20,75.05 185.44,75.24 185.68,75.43 185.93,75.64 186.17,75.98 186.41,76.36 186.65,76.73 186.89,77.10 187.14,77.44 187.38,77.77 187.62,78.07 187.86,78.34 188.11,78.57 188.35,78.78 188.59,78.95 188.83,79.08 189.07,79.18 189.32,79.25 189.56,79.28 189.80,79.29 190.04,79.27 190.28,79.16 190.53,79.03 190.77,78.90 191.01,78.77 191.25,78.64 191.50,78.51 191.74,78.40 191.98,78.31 192.22,78.24 192.46,78.19 192.71,78.18 192.95,78.19 193.19,78.24 193.43,78.33 193.68,78.45 193.92,78.61 194.16,78.79 194.40,79.01 194.64,79.25 194.89,79.52 195.13,79.80 195.37,80.10 195.61,80.41 195.85,80.71 196.10,81.02 196.34,81.31 196.58,81.60 196.82,81.86 197.07,82.10 197.31,82.31 197.55,82.49 197.79,82.63 198.03,82.74 198.28,82.82 198.52,82.86 198.76,82.87 199.00,81.67 199.24,81.75 199.49,81.83 199.73,81.91 199.97,81.99 200.21,81.95 200.46,81.89 200.70,81.83 200.94,81.77 201.18,81.70 201.42,81.64 201.67,81.58 201.91,81.52 202.15,80.44 202.39,78.75 202.64,77.05 202.88,75.36 203.12,73.66 203.36,71.97 203.60,71.10 203.85,71.33 204.09,71.56 204.33,71.80 204.57,72.03 204.81,72.26 205.06,72.49 205.30,72.73 205.54,72.96 205.78,73.19 206.03,73.42 206.27,73.60 206.51,73.77 206.75,73.95 206.99,74.13 207.24,74.31 207.48,74.48 207.72,74.66 207.96,74.84 208.20,75.02 208.45,75.19 208.69,75.37 208.93,75.55 209.17,75.49 209.42,75.34 209.66,75.19 209.90,75.03 210.14,74.88 210.38,74.73 210.63,74.58 210.87,74.43 211.11,74.27 211.35,74.12 211.59,73.97 211.84,73.82 212.08,73.66 212.32,73.51 212.56,73.43 212.81,73.55 213.05,73.67 213.29,73.79 213.53,73.90 213.77,74.02 214.02,74.14 214.26,74.26 214.50,74.38 214.74,74.50 214.99,74.61 215.23,74.73 215.47,74.85 215.71,74.97 215.95,75.09 216.20,75.21 216.44,75.33 216.68,75.44 216.92,75.56 217.16,75.68 217.41,75.80 217.65,75.92 217.89,76.05 218.13,76.17 218.38,76.29 218.62,76.41 218.86,76.53 219.10,76.65 219.34,76.77 219.59,76.89 219.83,77.01 220.07,77.07 220.31,76.95 220.55,76.84 220.80,76.73 221.04,76.62 221.28,76.50 221.52,76.43 221.77,76.79 222.01,77.14 222.25,77.49 222.49,77.84 222.73,78.20 222.98,78.55 223.22,78.90 223.46,79.25 223.70,79.60 223.94,79.96 224.19,80.31 224.43,80.66 224.67,81.01 224.91,81.37 225.16,81.72 225.40,82.07 225.64,82.42 225.88,82.77 226.12,83.13 226.37,83.48 226.61,83.83 226.85,84.18 227.09,84.51 227.34,84.79 227.58,85.06 227.82,85.34 228.06,85.62 228.30,85.90 228.55,86.18 228.79,86.46 229.03,86.73 229.27,87.01 229.51,87.29 229.76,87.57 230.00,87.85 230.24,87.39 230.48,87.49 230.73,87.61 230.97,87.76 231.21,87.96 231.45,88.20 231.69,88.47 231.94,88.78 232.18,89.12 232.42,89.49 232.66,89.90 232.90,90.33 233.15,90.72 233.39,91.09 233.63,91.48 233.87,91.87 234.12,92.28 234.36,92.68 234.60,93.09 234.84,93.48 235.08,93.86 235.33,94.22 235.57,94.56 235.81,94.87 236.05,95.11 236.29,95.19 236.54,95.24 236.78,95.25 237.02,95.23 237.26,95.17 237.51,95.08 237.75,94.96 237.99,94.81 238.23,94.65 238.47,94.47 238.72,94.27 238.96,94.07 239.20,93.87 239.44,93.67 239.69,93.48 239.93,93.31 240.17,93.15 240.41,93.01 240.65,92.90 240.90,92.82 241.14,92.78 241.38,92.77 241.62,92.79 241.86,92.85 242.11,92.95 242.35,93.07 242.59,93.22 242.83,93.40 243.08,93.60 243.32,93.81 243.56,94.04 243.80,94.27 244.04,94.53 244.29,94.88 244.53,95.22 244.77,95.54 245.01,95.84 245.25,96.12 245.50,96.37 245.74,96.59 245.98,96.77 246.22,96.92 246.47,97.04 246.71,97.12 246.95,97.17 247.19,97.19 247.43,97.17 247.68,97.14 247.92,97.08 248.16,96.96 248.40,96.80 248.65,96.63 248.89,96.47 249.13,96.31 249.37,96.16 249.61,96.02 249.86,95.91 250.10,95.83 250.34,95.77 250.58,95.74 250.82,95.75 251.07,95.79 251.31,95.87 251.55,95.98 251.79,96.12 252.04,96.31 252.28,96.60 252.52,96.92 252.76,97.26 253.00,97.61 253.25,97.97 253.49,98.34 253.73,98.70 253.97,99.06 254.21,99.41 254.46,99.74 254.70,100.05 254.94,100.33 255.18,100.58 255.43,100.80 255.67,100.99 255.91,101.14 256.15,101.25 256.39,101.30 256.64,101.33 256.88,101.32 257.12,101.28 257.36,101.23 257.60,101.15 257.85,101.06 258.09,100.96 258.33,100.86 258.57,100.75 258.82,100.66 259.06,100.58 259.30,100.51" fill="none" stroke="#ff7f0e" stroke-width="1.0" stroke-linejoin="round" stroke-dasharray="2.1 1.1"/>
<rect x="31.4" y="25.7" width="239.50" height="96.30" fill="none" stroke="#4a4a4a" stroke-width="0.6"/>
<text x="39.40" y="131.20" font-size="7.4" text-anchor="middle" textLength="13.80" lengthAdjust="spacingAndGlyphs">2000</text>
<text x="87.50" y="131.20" font-size="7.4" text-anchor="middle" textLength="13.80" lengthAdjust="spacingAndGlyphs">2005</text>
<text x="135.60" y="131.20" font-size="7.4" text-anchor="middle" textLength="13.80" lengthAdjust="spacingAndGlyphs">2010</text>
<text x="183.70" y="131.20" font-size="7.4" text-anchor="middle" textLength="13.80" lengthAdjust="spacingAndGlyphs">2015</text>
<text x="231.80" y="131.20" font-size="7.4" text-anchor="middle" textLength="13.80" lengthAdjust="spacingAndGlyphs">2020</text>
<text x="28.50" y="46.90" font-size="7.4" text-anchor="end" textLength="12.40" lengthAdjust="spacingAndGlyphs">0.01</text>
<text x="28.50" y="64.95" font-size="7.4" text-anchor="end" textLength="12.60" lengthAdjust="spacingAndGlyphs">0.00</text>
<text x="28.50" y="83.00" font-size="7.4" text-anchor="end" textLength="15.20" lengthAdjust="spacingAndGlyphs">−0.01</text>
<text x="28.50" y="101.05" font-size="7.4" text-anchor="end" textLength="15.30" lengthAdjust="spacingAndGlyphs">−0.02</text>
<text x="28.50" y="119.10" font-size="7.4" text-anchor="end" textLength="15.30" lengthAdjust="spacingAndGlyphs">−0.03</text>
<path d="M39.40 122.0v1.4M87.50 122.0v1.4M135.60 122.0v1.4M183.70 122.0v1.4M231.80 122.0v1.4M31.4 43.60h-1.4M31.4 61.65h-1.4M31.4 79.70h-1.4M31.4 97.75h-1.4M31.4 115.80h-1.4" stroke="#4a4a4a" stroke-width="0.45" fill="none"/>
<text x="151.15" y="24.00" font-size="8.0" text-anchor="middle" textLength="42.40" lengthAdjust="spacingAndGlyphs">East: Position</text>
<text x="151.15" y="139.90" font-size="8.0" text-anchor="middle" textLength="43.30" lengthAdjust="spacingAndGlyphs">Epoch (years)</text>
<text transform="translate(9.4,74.45) rotate(-90)" x="0" y="0" font-size="8.0" text-anchor="middle" textLength="30.8" lengthAdjust="spacingAndGlyphs">Value (m)</text>
<rect x="231.8" y="28.0" width="36.40" height="18.10" rx="1" fill="#ffffff" fill-opacity="0.8" stroke="#d0d0d0" stroke-width="0.45"/>
<path d="M233.3 32.5H245.6" stroke="#1e7abe" stroke-width="0.7"/>
<circle cx="239.45" cy="32.5" r="0.9" fill="#1e7abe"/>
<text x="249.70" y="34.80" font-size="6.2" textLength="11.30" lengthAdjust="spacingAndGlyphs">Data</text>
<path d="M234.10000000000002 40.4H245.6" stroke="#ff7f0e" stroke-width="1.1" stroke-dasharray="1.9 1.3"/>
<text x="249.70" y="42.70" font-size="6.2" textLength="15.90" lengthAdjust="spacingAndGlyphs">Model</text>
<path d="M315.00 25.7V122.0M363.10 25.7V122.0M411.20 25.7V122.0M459.30 25.7V122.0M507.40 25.7V122.0M306.8 30.60H546.3M306.8 52.55H546.3M306.8 74.50H546.3M306.8 96.45H546.3M306.8 118.40H546.3" stroke="#b0b0b0" stroke-width="0.45" fill="none"/>
<polyline points="316.93,83.19 317.07,63.28 317.27,64.65 317.40,81.56 317.61,81.17 317.74,57.66 317.94,59.12 318.08,80.14 318.28,64.05 318.42,82.16 318.62,65.27 318.75,96.07 318.96,80.89 319.09,66.53 319.30,57.90 319.43,83.57 319.63,50.74 319.77,89.53 319.97,80.77 320.11,62.62 320.31,77.14 320.44,63.13 320.64,64.48 320.78,81.78 320.98,57.77 321.12,83.02 321.32,54.30 321.45,96.44 321.66,61.59 321.79,82.79 322.00,83.38 322.13,70.19 322.33,63.65 322.47,83.33 322.67,79.23 322.81,64.16 323.01,85.62 323.14,54.91 323.35,86.83 323.48,63.68 323.68,82.68 323.82,65.52 324.02,65.30 324.15,86.17 324.36,64.24 324.49,84.00 324.69,64.84 324.83,86.29 325.03,56.90 325.17,81.56 325.37,67.56 325.50,82.50 325.71,67.06 325.80,46.20 325.84,83.33 326.05,90.67 326.18,59.04 326.38,66.77 326.52,81.17 326.72,87.16 326.86,62.99 327.06,81.04 327.19,63.87 327.39,83.12 327.53,64.03 327.73,63.83 327.87,89.54 328.07,80.84 328.20,66.88 328.41,61.35 328.54,81.27 328.75,87.28 328.88,62.68 329.08,64.00 329.22,86.46 329.42,90.96 329.56,53.58 329.76,86.82 329.89,62.66 330.10,82.45 330.23,63.15 330.43,60.17 330.57,87.73 330.77,82.31 330.90,62.51 331.11,62.20 331.24,91.29 331.44,84.82 331.58,64.42 331.78,55.42 331.92,85.17 332.12,84.72 332.25,46.50 332.46,59.25 332.59,83.85 332.80,85.95 332.93,61.68 333.13,61.48 333.27,84.02 333.47,64.95 333.61,90.44 333.81,86.13 333.94,64.40 334.14,63.11 334.28,92.35 334.48,64.54 334.62,82.52 334.82,88.51 334.95,70.29 335.16,63.61 335.29,83.28 335.50,63.58 335.63,93.22 335.83,67.92 335.97,81.91 336.17,65.67 336.31,78.88 336.51,81.60 336.64,59.61 336.80,98.90 336.84,63.94 336.98,79.17 337.18,89.71 337.32,63.70 337.52,57.95 337.65,89.17 337.86,66.87 337.99,100.02 338.19,80.50 338.33,63.57 338.53,88.17 338.67,62.16 338.87,65.46 339.00,85.95 339.21,82.81 339.34,65.81 339.55,62.54 339.68,83.26 339.88,57.75 340.02,91.30 340.22,89.26 340.35,68.00 340.56,64.42 340.69,83.08 340.89,86.82 341.03,67.35 341.23,84.33 341.37,60.50 341.57,61.21 341.70,82.73 341.91,62.04 342.04,85.78 342.25,60.67 342.30,41.10 342.38,90.30 342.58,83.78 342.72,53.75 342.92,88.20 343.06,66.66 343.26,89.51 343.39,68.39 343.59,64.07 343.73,89.93 343.93,59.05 344.07,86.17 344.27,56.28 344.40,84.82 344.61,59.59 344.74,80.77 344.94,69.23 345.08,81.00 345.28,58.20 345.42,77.80 345.62,62.55 345.75,84.43 345.96,95.76 346.09,68.19 346.30,86.85 346.43,58.83 346.63,83.32 346.77,65.40 348.83,67.76 348.97,83.74 349.17,80.84 349.30,65.91 349.50,81.54 349.64,63.91 349.84,83.53 349.97,64.83 350.17,85.00 350.31,67.36 350.51,66.03 350.64,81.94 350.84,68.16 350.98,87.25 351.18,65.79 351.31,80.11 351.51,69.04 351.65,79.79 351.85,81.54 351.98,64.89 352.18,79.76 352.31,69.52 352.52,64.85 352.65,85.43 352.85,65.36 352.98,81.28 353.19,81.99 353.32,66.11 353.52,85.01 353.65,63.93 353.85,80.47 353.99,60.83 354.19,81.24 354.32,63.98 354.52,86.02 354.66,64.47 354.86,58.41 354.99,79.43 355.19,82.70 355.33,66.04 355.53,66.20 355.66,80.11 355.86,83.17 356.00,65.14 356.20,85.66 356.33,61.05 356.53,68.62 356.67,83.20 356.87,66.92 357.00,82.03 357.20,54.78 357.34,79.33 357.54,61.37 357.67,82.01 357.87,63.35 358.01,87.99 358.21,89.36 358.34,66.72 358.54,65.37 358.68,78.15 358.88,82.79 359.01,62.79 359.21,63.65 359.34,88.26 359.55,67.83 359.68,85.57 359.88,64.07 360.01,80.37 360.22,83.76 360.35,64.78 360.55,59.78 360.68,81.66 360.88,57.41 361.00,53.00 361.02,81.97 361.22,78.30 361.35,64.43 361.55,61.81 361.69,81.53 361.89,66.17 362.02,81.70 362.22,82.62 362.36,60.90 362.56,67.65 362.69,84.75 362.89,84.21 363.03,66.41 363.23,84.55 363.36,62.58 363.56,65.05 363.70,77.66 363.90,81.21 364.03,67.07 364.23,80.25 364.37,62.46 364.57,60.78 364.70,80.14 364.90,81.86 365.04,63.08 365.24,84.73 365.37,63.53 365.57,66.42 365.71,91.57 365.91,84.01 366.04,67.39 366.24,81.40 366.38,68.45 366.58,64.82 366.71,85.66 366.91,84.49 367.04,68.94 367.25,87.71 367.38,65.84 367.58,84.91 367.71,67.83 367.92,66.21 368.05,80.94 368.25,82.24 368.38,67.57 368.58,82.82 368.72,58.61 368.92,60.27 369.05,85.84 369.25,69.25 369.39,83.64 369.59,67.38 369.72,84.28 369.92,66.45 370.06,81.93 370.26,58.04 370.39,79.97 370.59,81.43 370.73,64.18 370.93,81.46 371.06,63.37 371.26,88.27 371.40,59.07 371.60,86.78 371.73,63.56 371.93,63.16 372.07,88.53 372.27,83.20 372.40,63.14 372.60,54.17 372.74,86.04 372.94,59.78 373.07,78.31 373.27,55.58 373.41,82.73 373.61,88.97 373.74,63.53 373.94,65.28 374.07,77.88 374.28,63.50 374.41,82.38 374.61,63.69 374.74,77.75 374.95,62.27 375.08,78.29 375.28,76.78 375.41,56.84 375.61,63.43 375.75,80.53 375.95,60.80 376.08,76.15 376.28,78.94 376.30,54.30 376.42,61.35 376.62,62.18 376.75,77.19 376.95,59.44 377.09,74.83 377.29,81.17 377.42,62.49 377.62,64.59 377.76,79.67 377.96,82.82 378.09,58.19 378.29,58.03 378.43,79.27 378.63,59.66 378.76,88.97 378.96,81.68 379.10,60.43 379.30,48.98 379.43,75.72 379.63,67.81 379.77,80.64 379.97,61.92 380.10,83.92 380.30,63.53 380.44,78.60 380.64,64.38 380.77,80.01 380.97,65.10 381.11,83.80 381.31,83.72 381.44,63.51 381.64,65.49 381.77,77.17 381.98,80.01 382.11,69.95 382.31,61.86 382.44,80.62 382.65,65.98 382.78,81.42 382.98,80.41 383.00,91.60 383.11,61.71 383.31,80.39 383.45,62.41 383.65,78.51 383.78,54.63 383.98,64.06 384.12,79.26 384.32,87.53 384.45,62.07 384.65,69.93 384.79,81.65 384.99,62.78 385.12,84.48 385.32,81.54 385.46,69.38 385.66,58.16 385.79,88.88 385.99,65.64 386.13,84.47 386.33,62.91 386.46,84.78 386.66,79.99 386.80,63.72 387.00,82.69 387.13,63.39 387.33,67.19 387.47,80.88 387.67,65.30 387.80,77.98 388.00,65.07 388.14,83.14 388.34,65.82 388.47,79.68 388.67,87.26 388.80,66.03 389.01,67.33 389.14,82.72 389.34,65.81 389.47,84.78 389.68,83.60 389.81,65.99 390.01,68.64 390.14,78.55 390.34,85.89 390.48,67.23 390.68,81.44 390.81,65.89 391.01,84.00 391.15,62.78 391.35,83.05 391.48,67.58 391.68,66.07 391.82,85.91 392.02,83.61 392.15,69.15 392.35,62.83 392.49,83.36 392.69,58.06 392.82,82.21 393.02,84.74 393.16,70.14 393.36,87.85 393.49,66.91 393.69,63.54 393.83,85.99 394.03,82.44 394.16,67.21 394.36,89.15 394.50,71.50 394.70,65.44 394.83,85.24 395.03,59.89 395.17,88.16 395.37,89.08 395.50,70.63 395.70,67.51 395.84,83.63 396.04,71.39 396.17,82.63 396.37,87.19 396.50,73.17 396.71,86.05 396.84,64.58 397.04,87.22 397.17,69.51 397.38,69.61 397.51,89.07 397.71,71.79 397.84,89.01 398.04,84.48 398.18,67.11 398.38,69.69 398.51,82.49 398.71,89.31 398.85,70.72 399.05,67.65 399.18,86.37 399.38,72.45 399.52,93.12 399.72,67.99 399.85,93.11 400.05,85.42 400.19,71.40 400.39,70.37 400.52,87.61 400.72,66.62 400.86,84.59 401.06,65.24 401.19,82.44 401.39,91.64 401.53,60.92 401.73,89.36 401.86,67.18 402.06,68.63 402.20,88.84 402.40,65.19 402.53,82.77 402.73,61.53 402.87,82.03 403.07,69.32 403.20,80.47 403.40,80.03 403.53,68.55 403.74,67.20 403.87,83.15 404.07,88.24 404.20,63.76 404.41,87.78 404.54,62.56 404.74,81.90 404.87,66.93 405.07,59.16 405.21,81.17 405.41,61.64 405.54,87.28 405.74,82.80 405.88,68.11 406.08,65.27 406.21,80.61 406.41,85.67 406.55,57.93 406.75,63.22 406.88,84.38 407.08,82.20 407.22,65.90 407.42,83.54 407.55,57.30 407.75,86.05 407.89,65.77 408.09,85.80 408.22,64.00 408.42,60.65 408.56,84.31 408.76,79.74 408.89,64.85 409.09,66.23 409.23,84.94 409.30,56.50 409.43,84.48 409.56,54.24 409.76,66.85 409.90,78.38 410.10,59.11 410.23,80.77 410.43,68.38 410.57,79.47 410.77,65.56 410.90,78.42 411.10,64.30 411.23,77.49 411.44,82.73 411.57,64.99 411.77,79.02 411.90,55.55 412.10,64.58 412.24,79.20 412.44,81.67 412.57,62.70 412.77,61.43 412.91,80.23 413.11,56.95 413.24,83.95 413.44,88.56 413.58,66.62 413.78,65.44 413.91,78.92 414.11,64.47 414.25,84.58 414.45,54.60 414.58,86.93 414.78,84.24 414.92,65.05 415.12,62.13 415.25,83.24 415.45,80.44 415.59,63.92 415.79,78.77 415.92,59.87 416.12,83.76 416.26,61.04 416.46,83.05 416.59,65.19 416.79,66.65 416.93,78.95 417.13,83.19 417.26,68.10 417.46,61.81 417.60,82.52 417.80,87.87 417.93,62.35 418.13,66.49 418.26,83.22 418.47,63.51 418.60,83.20 418.80,84.70 418.93,66.82 419.14,80.83 419.27,64.72 419.47,57.71 419.60,85.64 419.80,82.68 419.94,64.70 420.14,87.14 420.27,66.74 420.47,88.37 420.61,66.33 420.81,59.52 420.94,78.49 421.14,80.34 421.28,55.09 421.48,81.79 421.61,68.63 421.81,66.62 421.95,85.35 422.15,70.03 422.28,81.34 422.48,56.70 422.62,81.75 422.82,83.71 422.95,65.18 423.15,65.21 423.29,82.61 423.49,65.27 423.62,84.69 423.82,66.82 423.96,86.44 424.16,83.66 424.29,67.89 424.49,88.82 424.63,56.47 424.83,82.83 424.96,68.52 425.16,66.26 425.30,81.35 425.50,86.40 425.63,67.20 425.83,65.69 425.96,83.32 426.17,57.86 426.30,84.78 426.50,93.52 426.63,65.43 426.83,80.09 426.97,70.78 427.17,90.49 427.30,63.08 427.50,89.08 427.64,71.05 427.84,87.00 427.97,66.64 428.17,87.79 428.31,72.13 428.51,67.76 428.64,82.97 428.84,67.05 428.98,83.21 429.18,64.59 429.31,84.02 429.51,84.65 429.65,64.73 429.85,84.72 429.98,68.76 430.18,69.17 430.32,89.26 430.52,84.95 430.65,68.29 430.85,82.61 430.99,65.69 431.19,65.32 431.32,89.86 431.52,62.37 431.66,82.41 431.86,68.06 431.99,86.28 432.19,86.02 432.33,65.17 432.53,93.02 432.66,68.66 432.86,88.01 432.99,69.29 433.20,90.05 433.33,64.14 433.53,68.53 433.66,83.16 433.87,81.05 434.00,64.16 434.20,63.26 434.33,89.68 434.53,84.39 434.67,66.59 434.87,86.62 435.00,68.89 435.20,82.72 435.34,63.50 435.54,60.79 435.67,82.10 435.87,85.43 436.01,69.00 436.21,65.75 436.34,80.75 436.54,69.80 436.68,84.77 436.88,66.94 437.01,82.08 437.21,67.74 437.35,84.84 437.55,85.91 437.68,64.07 437.88,56.24 438.02,81.76 438.22,83.59 438.35,66.23 438.55,67.66 438.69,81.69 438.89,69.12 439.02,82.67 439.22,62.77 439.36,83.64 439.56,63.89 439.69,82.75 439.89,64.04 440.02,84.56 440.23,83.56 440.36,70.42 440.56,81.46 440.69,60.64 440.90,82.69 441.03,63.89 441.23,88.68 441.36,69.88 441.56,66.06 441.70,85.70 441.90,86.83 442.03,67.68 442.23,80.47 442.37,66.98 442.57,83.33 442.70,66.32 442.90,80.99 443.04,63.91 443.24,68.09 443.37,84.80 443.57,82.86 443.71,66.50 443.91,66.60 444.04,83.96 444.24,66.83 444.38,78.11 444.58,80.44 444.71,68.32 444.91,65.44 445.05,79.10 445.25,86.48 445.38,62.18 445.58,68.00 445.72,84.53 445.92,65.29 446.05,86.05 446.25,55.99 446.39,83.76 446.59,84.32 446.72,62.94 446.92,80.10 447.06,67.94 447.26,78.81 447.39,62.48 447.59,64.45 447.72,79.87 447.93,78.02 448.06,66.26 448.26,84.82 448.39,64.58 448.60,84.44 448.73,66.95 448.93,66.44 449.06,86.39 449.26,61.91 449.40,86.75 449.60,84.45 449.73,60.49 449.93,79.40 450.07,64.13 450.27,83.44 450.40,65.27 450.60,60.92 450.74,80.72 450.94,84.01 451.07,67.61 451.27,82.32 451.41,65.44 451.61,67.13 451.74,80.83 451.94,85.39 452.08,60.55 452.28,64.77 452.41,79.62 452.61,57.95 452.75,82.13 452.95,81.97 453.08,61.93 453.28,67.17 453.42,81.77 453.62,77.88 453.75,64.34 453.95,60.42 454.09,79.74 454.29,60.17 454.42,88.28 454.62,78.50 454.75,63.99 454.96,86.82 455.09,61.59 455.29,80.79 455.42,63.56 455.63,61.71 455.76,85.24 455.96,80.81 456.09,58.13 456.29,78.00 456.43,60.32 456.63,67.83 456.76,79.13 456.96,85.79 457.10,54.69 457.30,81.37 457.43,62.50 457.63,63.87 457.77,78.99 457.97,62.12 458.10,81.23 458.30,77.43 458.44,63.72 458.64,61.40 458.77,77.21 458.97,86.47 459.11,62.47 459.31,80.60 459.44,60.01 459.64,64.79 459.78,84.07 459.98,74.34 460.11,58.36 460.31,79.62 460.45,62.74 460.65,62.57 460.78,80.19 460.98,80.73 461.12,57.60 461.32,77.95 461.45,49.88 461.50,44.60 461.65,64.45 461.79,76.57 461.99,76.51 462.12,66.32 462.32,61.50 462.45,76.75 462.66,80.37 462.79,60.37 462.99,79.10 463.12,65.67 463.33,57.95 463.46,85.10 463.66,65.51 463.79,77.91 463.99,82.23 464.13,62.27 464.33,63.18 464.46,81.24 464.66,65.32 464.80,85.38 465.00,80.96 465.13,63.38 465.33,60.96 465.47,81.12 465.67,60.37 465.80,83.56 466.00,82.79 466.14,65.63 466.34,81.07 466.47,64.56 466.67,86.30 466.81,63.79 467.01,59.07 467.14,81.60 467.34,78.28 467.48,67.59 467.68,79.79 467.81,69.36 468.01,66.43 468.15,81.25 468.35,55.64 468.48,84.88 468.68,65.36 468.82,81.95 469.02,85.10 469.15,67.74 469.35,67.83 469.48,85.99 469.69,82.71 469.82,65.64 470.02,63.77 470.15,80.58 470.36,61.97 470.49,83.53 470.69,80.26 470.82,69.35 471.02,80.71 471.16,68.65 471.36,68.09 471.49,87.60 471.69,81.38 471.83,66.33 472.03,68.45 472.16,85.14 472.36,80.80 472.50,67.50 472.70,88.52 472.83,66.53 473.03,89.27 473.17,65.01 473.37,70.35 473.50,91.71 473.70,87.31 473.84,67.99 474.04,82.97 474.17,63.88 474.37,87.50 474.51,65.93 474.71,64.93 474.84,82.19 475.04,83.24 475.18,66.62 475.38,82.51 475.51,70.29 475.71,71.13 475.85,81.66 476.05,79.30 476.18,64.78 476.38,88.13 476.52,63.67 476.72,67.28 476.85,84.77 477.05,67.49 477.18,80.29 477.39,81.81 477.52,62.21 477.70,50.40 477.72,69.47 477.85,82.72 478.06,64.81 478.19,81.49 478.39,82.86 478.52,67.69 478.72,72.04 478.86,81.38 479.06,83.04 479.19,69.69 479.39,82.59 479.53,69.47 479.73,67.46 479.86,82.20 480.06,84.19 480.20,73.22 480.40,85.14 480.53,74.14 480.73,77.39 480.87,87.16 481.07,75.48 481.20,87.34 481.40,78.10 481.54,94.49 481.74,79.78 481.87,92.23 482.07,80.56 482.21,91.11 482.41,80.32 482.54,90.15 482.74,91.80 482.88,78.39 483.08,94.75 483.21,79.30 483.41,96.28 483.55,86.15 483.75,84.76 483.88,101.33 484.08,85.39 484.21,95.58 484.42,83.95 484.50,103.50 484.55,99.27 484.75,82.95 484.88,97.25 485.09,83.80 485.22,94.67 485.42,82.86 485.55,96.46 485.60,101.50 485.75,95.21 485.89,84.17 486.09,91.95 486.22,80.80 486.42,94.62 486.56,83.98 486.76,91.27 486.89,79.02 487.09,88.94 487.23,77.31 487.43,75.69 487.56,83.25 487.76,84.58 487.90,74.74 488.10,84.91 488.23,70.18 488.43,84.35 488.57,74.24 489.20,71.70 489.30,34.30 489.40,66.00 491.10,81.00 491.20,53.00 491.30,76.40 492.30,75.00 492.40,39.00 492.50,72.00 493.40,36.50 493.50,68.60 494.30,29.70 494.40,60.00 495.30,35.00 495.40,43.70 496.50,31.20 496.60,33.00 505.50,79.50 505.83,80.30 505.97,66.42 506.17,84.50 506.31,65.82 506.51,83.40 506.64,59.67 506.85,66.88 506.98,78.44 507.00,34.70 507.19,80.32 507.20,96.90 507.32,64.63 507.52,75.39 507.66,57.98 507.86,82.79 508.00,56.75 508.20,57.23 508.34,81.31 508.54,79.29 508.67,64.94 508.88,64.35 509.01,78.65 509.22,65.76 509.35,76.31 509.55,80.80 509.69,67.21 509.89,67.80 510.03,77.40 510.23,66.59 510.37,77.89 510.57,64.81 510.70,76.94 510.91,68.00 511.04,86.85 511.25,77.72 511.38,63.90 511.58,83.62 511.72,65.71 511.92,65.16 512.06,80.38 512.26,63.42 512.40,86.28 512.60,56.83 512.74,79.09 512.94,62.88 513.07,86.84 513.28,56.59 513.41,77.44 513.61,80.35 513.75,64.37 513.95,60.65 514.09,80.02 514.29,83.42 514.43,68.42 514.63,62.57 514.77,81.93 514.97,74.67 515.10,65.92 515.31,77.85 515.44,66.28 515.65,76.48 515.78,64.72 515.98,62.49 516.12,79.81 516.32,69.07 516.46,82.46 516.66,62.09 516.80,81.03 517.00,65.31 517.13,78.19 517.34,77.02 517.47,57.78 517.68,83.14 517.81,66.19 518.01,65.28 518.15,90.03 518.35,78.31 518.49,66.58 518.69,63.98 518.83,79.60 519.03,77.77 519.16,65.85 519.37,76.37 519.50,65.15 519.71,67.14 519.84,80.18 520.04,65.29 520.18,83.87 520.38,79.49 520.52,58.30 520.72,79.43 520.86,66.14 521.06,79.19 521.19,65.08 521.40,60.38 521.53,83.01 521.74,76.26 521.87,65.36 522.07,65.11 522.21,79.59 522.41,67.25 522.55,75.79 522.75,60.40 522.89,80.19 523.09,82.56 523.22,67.90 523.43,78.26 523.56,65.99 523.77,64.76 523.90,81.94 524.10,79.00 524.24,68.20 524.44,81.19 524.58,65.21 524.78,78.78 524.92,62.02 525.12,78.33 525.25,63.85 525.46,65.68 525.59,79.37 525.80,78.57 525.93,63.96 526.13,67.18 526.27,78.82 526.47,81.24 526.61,60.40 526.81,67.34 526.95,81.51 527.15,61.97 527.29,83.24 527.49,84.73 527.62,64.89 527.83,66.91 527.96,82.03 528.16,61.78 528.30,80.51 528.50,84.58 528.64,71.39 528.84,81.35 528.98,68.59 529.18,79.26 529.32,69.26 529.52,79.53 529.65,60.65 529.86,63.09 529.99,81.26 530.20,60.17 530.33,88.16 530.53,82.02 530.67,64.49 530.87,77.78 531.01,69.22 531.21,81.26 531.35,59.47 531.55,80.05 531.68,65.87 531.89,80.64 532.02,65.82 532.23,79.34 532.36,67.10 532.56,65.16 532.70,86.58 532.90,68.79 533.04,81.60 533.24,84.01 533.38,67.48 533.58,81.61 533.71,62.29 533.92,83.93 534.05,69.50 534.26,82.02 534.39,67.30 534.59,80.00 534.73,67.24 534.90,46.90 534.93,82.76 535.00,117.70 535.07,70.24" fill="none" stroke="#ffa500" stroke-width="0.8" stroke-linejoin="round" />
<path d="M317.40 81.56h0M318.08 80.14h0M318.62 65.27h0M319.09 66.53h0M319.63 50.74h0M319.77 89.53h0M320.78 81.78h0M321.79 82.79h0M322.13 70.19h0M323.01 85.62h0M323.14 54.91h0M323.68 82.68h0M323.82 65.52h0M325.17 81.56h0M325.84 83.33h0M326.52 81.17h0M326.72 87.16h0M326.86 62.99h0M327.73 63.83h0M327.87 89.54h0M328.88 62.68h0M329.89 62.66h0M330.23 63.15h0M330.43 60.17h0M331.92 85.17h0M333.27 84.02h0M334.28 92.35h0M334.82 88.51h0M334.95 70.29h0M336.31 78.88h0M336.84 63.94h0M337.52 57.95h0M339.34 65.81h0M340.02 91.30h0M340.35 68.00h0M341.23 84.33h0M341.37 60.50h0M342.25 60.67h0M342.72 53.75h0M343.06 66.66h0M343.59 64.07h0M344.61 59.59h0M345.08 81.00h0M345.28 58.20h0M345.42 77.80h0M349.17 80.84h0M349.50 81.54h0M350.31 67.36h0M350.98 87.25h0M352.65 85.43h0M352.85 65.36h0M353.19 81.99h0M353.99 60.83h0M356.53 68.62h0M357.00 82.03h0M357.54 61.37h0M357.87 63.35h0M358.68 78.15h0M358.88 82.79h0M359.01 62.79h0M359.34 88.26h0M362.36 60.90h0M363.70 77.66h0M364.23 80.25h0M365.04 63.08h0M366.24 81.40h0M366.91 84.49h0M367.04 68.94h0M369.59 67.38h0M369.72 84.28h0M370.06 81.93h0M370.39 79.97h0M370.73 64.18h0M371.06 63.37h0M372.40 63.14h0M373.61 88.97h0M373.94 65.28h0M374.41 82.38h0M374.74 77.75h0M375.08 78.29h0M375.41 56.84h0M375.61 63.43h0M376.08 76.15h0M376.28 78.94h0M377.42 62.49h0M378.09 58.19h0M378.96 81.68h0M379.30 48.98h0M379.63 67.81h0M380.10 83.92h0M380.44 78.60h0M381.31 83.72h0M382.98 80.41h0M384.45 62.07h0M385.66 58.16h0M385.79 88.88h0M386.46 84.78h0M387.00 82.69h0M388.47 79.68h0M389.14 82.72h0M390.48 67.23h0M392.35 62.83h0M392.49 83.36h0M392.82 82.21h0M393.49 66.91h0M394.50 71.50h0M395.03 59.89h0M395.70 67.51h0M396.04 71.39h0M396.37 87.19h0M397.17 69.51h0M399.38 72.45h0M399.72 67.99h0M401.73 89.36h0M402.06 68.63h0M402.53 82.77h0M403.74 67.20h0M404.20 63.76h0M404.54 62.56h0M404.74 81.90h0M404.87 66.93h0M406.41 85.67h0M408.42 60.65h0M408.56 84.31h0M409.09 66.23h0M409.56 54.24h0M409.90 78.38h0M410.90 78.42h0M411.44 82.73h0M412.24 79.20h0M412.91 80.23h0M413.78 65.44h0M414.78 84.24h0M415.25 83.24h0M415.59 63.92h0M416.12 83.76h0M416.26 61.04h0M417.13 83.19h0M417.26 68.10h0M417.60 82.52h0M418.26 83.22h0M420.27 66.74h0M420.47 88.37h0M420.61 66.33h0M420.94 78.49h0M421.48 81.79h0M422.15 70.03h0M422.62 81.75h0M422.82 83.71h0M423.49 65.27h0M423.62 84.69h0M424.49 88.82h0M424.63 56.47h0M426.17 57.86h0M427.64 71.05h0M428.17 87.79h0M430.32 89.26h0M431.32 89.86h0M431.66 82.41h0M432.66 68.66h0M432.86 88.01h0M433.66 83.16h0M434.00 64.16h0M434.67 66.59h0M435.34 63.50h0M435.87 85.43h0M436.01 69.00h0M437.68 64.07h0M438.22 83.59h0M439.69 82.75h0M440.36 70.42h0M441.56 66.06h0M443.57 82.86h0M443.91 66.60h0M444.04 83.96h0M444.91 65.44h0M445.05 79.10h0M446.25 55.99h0M446.59 84.32h0M446.92 80.10h0M447.26 78.81h0M447.39 62.48h0M449.60 84.45h0M449.73 60.49h0M450.40 65.27h0M450.60 60.92h0M451.27 82.32h0M452.75 82.13h0M452.95 81.97h0M453.75 64.34h0M454.42 88.28h0M456.63 67.83h0M457.77 78.99h0M459.11 62.47h0M459.64 64.79h0M460.31 79.62h0M460.78 80.19h0M461.12 57.60h0M461.32 77.95h0M462.79 60.37h0M463.12 65.67h0M463.79 77.91h0M463.99 82.23h0M466.00 82.79h0M466.34 81.07h0M467.81 69.36h0M468.35 55.64h0M469.35 67.83h0M470.49 83.53h0M471.02 80.71h0M475.18 66.62h0M475.38 82.51h0M475.85 81.66h0M476.05 79.30h0M476.38 88.13h0M476.85 84.77h0M477.18 80.29h0M477.39 81.81h0M478.19 81.49h0M478.52 67.69h0M478.86 81.38h0M479.73 67.46h0M480.53 74.14h0M480.73 77.39h0M482.74 91.80h0M482.88 78.39h0M485.75 95.21h0M485.89 84.17h0M486.22 80.80h0M487.56 83.25h0M487.90 74.74h0M505.83 80.30h0M506.17 84.50h0M506.51 83.40h0M506.64 59.67h0M507.19 80.32h0M508.34 81.31h0M508.88 64.35h0M509.55 80.80h0M509.89 67.80h0M510.37 77.89h0M510.91 68.00h0M511.58 83.62h0M511.72 65.71h0M511.92 65.16h0M512.06 80.38h0M513.28 56.59h0M513.75 64.37h0M515.78 64.72h0M517.00 65.31h0M518.35 78.31h0M519.37 76.37h0M520.52 58.30h0M521.40 60.38h0M521.53 83.01h0M521.87 65.36h0M522.07 65.11h0M523.43 78.26h0M523.56 65.99h0M523.77 64.76h0M523.90 81.94h0M524.24 68.20h0M524.92 62.02h0M525.12 78.33h0M526.13 67.18h0M526.27 78.82h0M526.81 67.34h0M527.15 61.97h0M528.30 80.51h0M528.64 71.39h0M528.84 81.35h0M529.18 79.26h0M529.86 63.09h0M530.87 77.78h0M532.36 67.10h0M533.71 62.29h0M533.92 83.93h0M534.93 82.76h0M325.80 46.20h0M336.80 98.90h0M342.30 41.10h0M361.00 53.00h0M376.30 54.30h0M383.00 91.60h0M409.30 56.50h0M461.50 44.60h0M477.70 50.40h0M484.50 103.50h0M485.60 101.50h0M489.20 71.70h0M489.30 34.30h0M489.40 66.00h0M491.10 81.00h0M491.20 53.00h0M491.30 76.40h0M492.30 75.00h0M492.40 39.00h0M492.50 72.00h0M493.40 36.50h0M493.50 68.60h0M494.30 29.70h0M494.40 60.00h0M495.30 35.00h0M495.40 43.70h0M496.50 31.20h0M496.60 33.00h0M505.50 79.50h0M507.00 34.70h0M507.20 96.90h0M534.90 46.90h0M535.00 117.70h0" stroke="#ffa500" stroke-width="1.0" stroke-linecap="round" fill="none"/>
<rect x="306.8" y="25.7" width="239.50" height="96.30" fill="none" stroke="#4a4a4a" stroke-width="0.6"/>
<text x="315.00" y="131.20" font-size="7.4" text-anchor="middle" textLength="13.80" lengthAdjust="spacingAndGlyphs">2000</text>
<text x="363.10" y="131.20" font-size="7.4" text-anchor="middle" textLength="13.80" lengthAdjust="spacingAndGlyphs">2005</text>
<text x="411.20" y="131.20" font-size="7.4" text-anchor="middle" textLength="13.80" lengthAdjust="spacingAndGlyphs">2010</text>
<text x="459.30" y="131.20" font-size="7.4" text-anchor="middle" textLength="13.80" lengthAdjust="spacingAndGlyphs">2015</text>
<text x="507.40" y="131.20" font-size="7.4" text-anchor="middle" textLength="13.80" lengthAdjust="spacingAndGlyphs">2020</text>
<text x="303.90" y="33.90" font-size="7.4" text-anchor="end" textLength="15.80" lengthAdjust="spacingAndGlyphs">0.010</text>
<text x="303.90" y="55.85" font-size="7.4" text-anchor="end" textLength="15.80" lengthAdjust="spacingAndGlyphs">0.005</text>
<text x="303.90" y="77.80" font-size="7.4" text-anchor="end" textLength="15.80" lengthAdjust="spacingAndGlyphs">0.000</text>
<text x="303.90" y="99.75" font-size="7.4" text-anchor="end" textLength="18.60" lengthAdjust="spacingAndGlyphs">−0.005</text>
<text x="303.90" y="121.70" font-size="7.4" text-anchor="end" textLength="19.20" lengthAdjust="spacingAndGlyphs">−0.010</text>
<path d="M315.00 122.0v1.4M363.10 122.0v1.4M411.20 122.0v1.4M459.30 122.0v1.4M507.40 122.0v1.4M306.8 30.60h-1.4M306.8 52.55h-1.4M306.8 74.50h-1.4M306.8 96.45h-1.4M306.8 118.40h-1.4" stroke="#4a4a4a" stroke-width="0.45" fill="none"/>
<text x="426.55" y="24.00" font-size="8.0" text-anchor="middle" textLength="47.10" lengthAdjust="spacingAndGlyphs">East: Residuals</text>
<text x="426.55" y="139.90" font-size="8.0" text-anchor="middle" textLength="43.30" lengthAdjust="spacingAndGlyphs">Epoch (years)</text>
<text transform="translate(280.9,74.45) rotate(-90)" x="0" y="0" font-size="8.0" text-anchor="middle" textLength="43.6" lengthAdjust="spacingAndGlyphs">Residuals (m)</text>
<rect x="309.1" y="28.4" width="44.60" height="8.90" rx="1" fill="#ffffff" fill-opacity="0.8" stroke="#d0d0d0" stroke-width="0.45"/>
<path d="M311.1 32.3H322.9" stroke="#ffa500" stroke-width="0.7"/>
<circle cx="317.00" cy="32.3" r="0.9" fill="#ffa500"/>
<text x="327.50" y="34.60" font-size="6.2" textLength="23.60" lengthAdjust="spacingAndGlyphs">Residuals</text>
<path d="M39.40 153.6V250.4M87.50 153.6V250.4M135.60 153.6V250.4M183.70 153.6V250.4M231.80 153.6V250.4M31.4 169.98H270.9M31.4 196.75H270.9M31.4 223.52H270.9M31.4 250.29H270.9" stroke="#b0b0b0" stroke-width="0.45" fill="none"/>
<polyline points="41.93,211.31 42.07,227.59 42.27,231.25 42.41,220.61 42.61,229.99 42.75,217.86 42.95,217.66 43.08,231.57 43.29,238.02 43.42,219.68 43.63,221.28 43.76,235.59 43.96,222.63 44.10,235.96 44.30,237.19 44.44,220.07 44.64,238.81 44.78,220.63 44.98,222.55 45.12,235.96 45.32,221.24 45.45,236.81 45.66,223.70 45.79,236.67 46.00,238.84 46.00,246.30 46.13,222.58 46.33,235.60 46.47,223.13 46.67,217.01 46.81,236.22 47.01,237.69 47.15,224.76 47.35,235.21 47.49,218.47 47.69,234.85 47.82,221.07 48.03,233.37 48.16,214.84 48.37,219.18 48.50,231.31 48.70,235.22 48.84,213.85 49.04,232.27 49.18,215.66 49.38,228.81 49.52,213.99 49.72,235.34 49.86,212.49 50.06,230.07 50.20,217.62 50.40,215.75 50.53,234.71 50.74,215.86 50.87,230.33 51.08,217.98 51.21,235.25 51.41,230.71 51.55,216.59 51.75,232.33 51.89,218.40 52.09,233.11 52.23,213.60 52.43,219.08 52.57,232.00 52.77,235.74 52.90,221.74 53.11,224.44 53.24,234.83 53.45,222.22 53.58,235.67 53.78,238.33 53.92,219.38 54.12,234.56 54.26,221.98 54.46,221.23 54.60,235.96 54.80,239.46 54.94,222.10 55.14,222.07 55.27,238.19 55.48,218.60 55.61,234.95 55.82,235.70 55.95,222.52 56.15,240.12 56.29,223.51 56.49,234.19 56.63,219.75 56.83,235.61 56.97,219.34 57.17,235.26 57.31,216.48 57.51,239.98 57.65,216.39 57.85,218.14 57.98,228.57 58.19,232.88 58.32,216.04 58.53,216.25 58.66,230.61 58.86,233.63 59.00,214.64 59.20,233.73 59.34,212.42 59.54,230.24 59.68,214.86 59.88,229.67 60.02,216.85 60.22,230.02 60.35,212.36 60.56,228.80 60.69,213.89 60.90,230.08 61.03,214.01 61.23,209.51 61.37,235.22 61.57,213.64 61.71,233.07 61.91,217.94 62.05,236.78 62.25,217.94 62.39,234.84 62.59,216.35 62.72,236.18 62.93,230.36 63.06,217.27 63.27,219.27 63.40,234.88 63.60,211.53 63.74,232.69 63.94,234.08 64.08,221.30 64.28,218.07 64.42,235.80 64.62,216.24 64.76,235.58 64.96,237.76 65.09,219.42 65.20,243.30 65.30,220.99 65.43,234.83 65.64,238.37 65.77,217.91 65.98,218.46 66.11,238.22 66.31,235.37 66.45,215.69 66.65,219.13 66.79,232.15 66.99,240.01 67.13,217.51 67.33,229.41 67.47,214.88 67.67,211.78 67.80,231.08 68.01,227.84 68.14,215.52 68.35,216.19 68.48,228.38 68.68,213.50 68.82,227.38 69.02,214.92 69.16,227.88 69.36,216.60 69.50,225.95 69.70,214.75 69.84,225.82 70.04,214.23 70.17,227.06 70.38,212.57 70.51,228.67 70.72,214.01 70.85,226.37 71.06,227.47 71.19,216.55 71.39,229.14 71.53,216.45 71.73,225.71 71.87,213.62 73.13,218.83 73.27,225.65 73.47,216.43 73.60,228.37 73.80,225.46 73.94,214.00 74.14,228.26 74.27,216.26 74.47,217.37 74.61,226.98 74.81,216.54 74.94,229.05 75.14,218.76 75.28,225.73 75.48,216.37 75.61,226.35 75.81,216.76 75.95,229.61 76.15,223.22 76.28,214.97 76.48,214.36 76.61,224.83 76.82,222.48 76.95,211.81 77.15,212.78 77.28,225.31 77.48,224.00 77.62,213.34 77.82,211.45 77.95,220.90 78.15,210.42 78.29,221.80 78.49,209.49 78.62,219.83 78.82,220.67 78.96,210.47 79.16,211.64 79.29,221.73 79.49,219.66 79.63,211.52 79.83,221.24 79.96,212.14 80.16,210.22 80.30,221.20 80.50,212.39 80.63,220.83 80.83,212.64 80.97,222.45 81.17,213.11 81.30,223.73 81.50,223.63 81.64,213.70 81.84,225.48 81.97,214.75 82.17,216.16 82.31,224.69 82.51,226.64 82.64,217.89 82.84,226.86 82.98,213.84 83.18,227.99 83.31,215.81 83.51,227.22 83.64,216.14 83.85,215.62 83.98,225.74 84.18,224.84 84.31,214.62 84.51,225.65 84.65,215.15 84.85,229.28 84.98,217.95 85.18,226.47 85.32,215.72 85.52,221.96 85.65,214.29 85.85,213.96 85.99,225.63 86.19,224.02 86.32,212.08 86.52,223.01 86.66,210.21 86.86,220.17 86.99,208.72 87.19,207.73 87.33,220.15 87.53,211.86 87.66,220.78 87.86,220.37 88.00,210.84 88.20,209.52 88.33,221.69 88.53,220.93 88.67,207.87 88.87,220.04 89.00,210.72 89.20,210.08 89.34,218.46 89.54,219.23 89.67,209.07 89.87,219.99 90.01,209.49 90.21,219.33 90.34,208.64 90.54,222.77 90.67,210.43 90.88,210.56 91.01,225.71 91.21,213.84 91.34,221.03 91.54,223.25 91.68,213.30 91.88,222.52 92.01,209.20 92.21,214.92 92.35,224.25 92.55,211.05 92.68,227.21 92.88,215.04 93.02,228.52 93.22,215.47 93.35,226.34 93.55,228.14 93.69,214.35 93.89,212.67 94.02,225.60 94.22,212.85 94.36,225.56 94.56,212.09 94.69,221.83 94.89,209.88 95.03,221.00 95.23,209.27 95.36,220.41 95.56,220.53 95.70,210.97 95.90,208.03 96.03,215.57 96.23,208.10 96.37,218.02 96.57,203.89 96.70,218.49 96.90,215.92 97.04,207.50 97.24,219.12 97.37,203.19 97.57,205.62 97.70,218.39 97.91,216.61 98.04,204.40 98.24,200.45 98.37,216.41 98.57,203.30 98.71,214.40 98.91,203.03 99.04,215.11 99.24,202.63 99.38,215.76 99.58,200.75 99.71,214.82 99.91,208.25 100.05,216.34 100.25,204.04 100.38,221.26 100.58,205.94 100.72,216.85 100.92,218.40 101.05,207.30 101.25,219.43 101.39,205.38 101.59,219.83 101.72,208.90 101.92,208.17 102.06,219.71 102.26,209.49 102.39,218.39 102.59,207.81 102.73,218.90 102.93,209.23 103.06,218.73 103.26,220.46 103.40,211.49 103.60,219.86 103.73,208.82 103.93,210.69 104.07,218.69 104.27,207.40 104.40,217.95 104.60,208.05 104.73,216.36 104.94,208.22 105.07,219.69 105.27,207.11 105.40,220.87 105.60,216.27 105.74,205.89 105.94,214.74 106.07,206.14 106.27,213.46 106.41,204.60 106.61,213.90 106.74,203.51 106.94,202.86 107.08,212.68 107.28,204.32 107.41,212.91 107.61,213.28 107.75,199.64 107.95,202.82 108.08,212.91 108.28,200.53 108.42,214.41 108.62,210.60 108.75,204.93 108.95,203.91 109.09,214.50 109.29,204.68 109.42,213.58 109.62,214.06 109.76,204.82 109.96,214.04 110.09,204.63 110.29,207.81 110.43,214.45 110.63,208.15 110.76,218.46 110.96,207.61 111.10,219.46 111.30,208.51 111.43,217.10 111.63,205.83 111.76,220.64 111.97,209.80 112.10,221.01 112.30,206.86 112.43,220.52 112.63,218.35 112.77,207.45 112.97,208.79 113.10,218.96 113.30,210.66 113.44,219.47 113.64,207.49 113.77,219.50 113.97,207.73 114.11,220.82 114.31,219.84 114.44,210.04 114.64,207.57 114.78,218.13 114.98,217.56 115.11,205.46 115.31,206.04 115.45,214.67 115.65,204.57 115.78,217.91 115.98,204.81 116.12,217.66 116.32,214.90 116.45,203.40 116.65,204.63 116.79,212.08 116.99,203.29 117.12,215.76 117.32,206.24 117.46,211.84 117.66,217.16 117.79,204.45 117.99,202.79 118.13,212.94 118.33,214.04 118.46,205.78 118.66,203.20 118.79,215.28 119.00,216.48 119.13,207.09 119.33,205.72 119.46,215.57 119.66,205.96 119.80,214.28 120.00,217.41 120.13,206.39 120.33,209.95 120.47,221.38 120.67,205.32 120.80,218.38 121.00,210.62 121.14,218.50 121.34,209.57 121.47,219.88 121.67,219.77 121.81,207.05 122.01,208.20 122.14,221.03 122.34,209.88 122.48,220.45 122.68,223.07 122.81,209.90 123.01,208.67 123.15,219.23 123.35,211.24 123.48,219.22 123.68,207.52 123.82,217.04 124.02,208.83 124.15,217.15 124.35,220.47 124.49,207.65 124.69,208.34 124.82,219.40 125.02,202.47 125.16,215.28 125.36,216.38 125.49,207.38 125.69,216.26 125.82,206.62 126.03,216.86 126.16,204.00 126.36,216.67 126.49,205.76 126.69,213.51 126.83,203.49 127.03,203.67 127.16,212.90 127.36,212.49 127.50,204.86 127.70,216.34 127.83,204.01 128.03,211.86 128.17,203.14 128.37,215.75 128.50,205.24 128.70,214.83 128.84,204.93 129.04,205.23 129.17,217.29 129.37,219.60 129.51,203.45 129.71,215.97 129.84,205.13 130.04,208.63 130.18,213.85 130.38,204.77 130.51,218.66 130.71,218.36 130.85,209.20 131.05,207.26 131.18,219.77 131.38,221.73 131.52,207.59 131.72,215.94 131.85,208.13 132.05,205.57 132.19,216.86 132.39,205.81 132.52,221.23 132.72,205.49 132.85,215.03 133.06,208.23 133.19,217.84 133.39,204.46 133.52,216.46 133.72,202.77 133.86,213.74 134.06,203.40 134.10,223.30 134.19,214.34 134.39,211.79 134.53,198.41 134.73,214.19 134.86,203.15 135.06,200.05 135.20,211.77 135.40,212.88 135.53,201.53 135.73,201.28 135.87,212.27 136.07,196.49 136.20,210.63 136.40,198.46 136.54,208.40 136.74,211.27 136.87,201.89 137.07,207.23 137.21,199.03 137.41,212.96 137.54,195.76 137.74,194.38 137.88,209.95 138.08,209.96 138.21,198.42 138.41,200.11 138.55,210.07 138.75,200.51 138.88,209.45 139.08,203.82 139.22,211.24 139.42,202.57 139.55,210.01 139.75,202.84 139.88,212.68 140.09,214.11 140.22,203.22 140.42,203.21 140.55,214.43 140.75,211.32 140.89,202.51 141.09,202.33 141.22,211.78 141.42,205.71 141.56,215.72 141.76,202.90 141.89,213.05 142.09,214.32 142.23,202.71 142.43,213.28 142.56,202.81 142.76,201.32 142.90,214.06 143.10,201.87 143.23,209.99 143.43,201.36 143.57,208.61 143.77,209.05 143.90,198.25 144.10,209.65 144.24,200.22 144.44,208.68 144.57,200.56 144.77,196.14 144.91,209.68 145.11,199.64 145.24,208.69 145.44,193.90 145.58,205.83 145.78,207.54 145.91,195.32 146.11,206.51 146.25,196.72 146.45,197.07 146.58,208.72 146.78,193.51 146.91,206.80 147.12,197.33 147.25,206.99 147.45,207.18 147.58,197.14 147.78,206.87 147.92,196.14 148.12,207.24 148.25,200.26 148.45,198.55 148.59,208.93 148.79,202.04 148.92,208.91 149.12,209.37 149.26,201.19 149.46,209.00 149.59,200.32 149.79,201.80 149.93,210.41 150.13,199.01 150.26,210.11 150.46,199.44 150.60,209.14 150.80,212.07 150.93,203.26 151.13,208.04 151.27,201.13 151.47,201.78 151.60,213.35 151.80,202.61 151.94,210.93 152.14,200.22 152.27,209.61 152.47,208.73 152.61,201.29 152.81,197.22 152.94,211.49 153.14,210.02 153.28,200.47 153.48,200.97 153.61,208.23 153.81,208.49 153.94,197.77 154.15,205.51 154.28,198.27 154.48,205.08 154.61,193.27 154.81,207.77 154.95,195.41 155.15,204.48 155.28,196.96 155.48,192.87 155.62,204.24 155.82,191.25 155.95,202.73 156.15,206.71 156.29,197.86 156.49,193.03 156.62,205.14 156.82,202.80 156.96,196.71 157.16,196.24 157.29,205.50 157.49,207.00 157.63,197.20 157.83,195.67 157.96,206.78 158.16,196.46 158.30,208.08 158.50,212.09 158.63,194.41 158.83,196.43 158.97,207.27 159.17,207.92 159.30,196.17 159.50,209.05 159.64,199.32 159.84,199.72 159.97,206.67 160.17,212.81 160.31,199.65 160.51,210.43 160.64,200.57 160.84,199.12 160.97,206.63 161.18,208.64 161.31,200.14 161.51,201.48 161.64,211.73 161.84,210.40 161.98,199.40 162.18,208.07 162.31,198.50 162.51,206.59 162.65,197.07 162.85,205.06 162.98,195.26 163.18,206.20 163.32,195.78 163.52,194.35 163.65,204.16 163.85,194.28 163.99,206.55 164.19,205.78 164.32,192.28 164.52,200.71 164.66,191.66 164.86,199.50 164.99,192.09 165.19,190.14 165.33,199.43 165.53,194.34 165.66,202.61 165.86,191.45 166.00,201.60 166.20,192.78 166.33,200.35 166.53,193.44 166.67,199.44 166.87,204.30 167.00,194.17 167.20,201.70 167.34,193.23 167.54,201.96 167.67,194.54 167.87,194.57 168.00,205.07 168.21,193.20 168.34,203.82 168.54,196.78 168.67,206.72 168.87,207.36 169.01,195.42 169.21,197.83 169.34,203.77 169.54,198.21 169.68,205.76 169.88,197.99 170.01,207.53 170.21,206.08 170.35,199.16 170.55,198.58 170.68,206.64 170.88,195.75 171.02,207.86 171.22,205.26 171.35,196.48 171.55,195.91 171.69,204.87 171.89,204.86 172.02,197.07 172.22,205.01 172.36,195.09 172.56,203.61 172.69,193.62 172.89,203.59 173.03,194.30 173.23,192.10 173.36,201.11 173.56,204.09 173.70,192.65 173.90,190.87 174.03,201.53 174.23,202.02 174.37,192.56 174.57,198.33 174.70,191.14 174.90,200.25 175.03,189.80 175.24,201.01 175.37,191.43 175.57,191.83 175.70,197.45 175.90,191.90 176.04,199.91 176.24,191.65 176.37,200.19 176.57,198.72 176.71,193.01 176.91,199.34 177.04,193.15 177.24,192.42 177.38,199.40 177.58,191.56 177.71,201.61 177.91,194.31 178.05,203.68 178.25,201.25 178.38,194.83 178.58,193.84 178.72,205.50 178.92,205.34 179.05,193.77 179.25,195.15 179.39,203.17 179.59,203.53 179.72,194.54 179.92,195.64 180.06,204.24 180.26,206.26 180.39,194.64 180.59,195.30 180.73,204.03 180.93,206.14 181.06,193.79 181.26,194.18 181.40,201.39 181.60,190.86 181.73,201.44 181.93,191.85 182.06,200.64 182.27,203.99 182.40,193.18 182.60,190.60 182.73,201.10 182.93,200.98 183.07,190.42 183.27,187.20 183.40,199.86 183.60,190.40 183.74,200.38 183.94,190.77 184.07,201.37 184.27,200.82 184.41,188.88 184.61,190.15 184.74,198.61 184.94,187.66 185.08,199.49 185.28,186.87 185.40,185.10 185.41,196.83 185.60,212.20 185.61,189.13 185.75,198.23 185.95,190.09 186.08,199.59 186.28,189.04 186.42,198.09 186.62,198.59 186.75,190.29 186.95,198.92 187.09,191.78 187.29,200.52 187.42,192.14 187.62,189.93 187.76,200.12 187.96,193.61 188.09,200.06 188.29,192.56 188.43,200.47 188.63,193.78 188.76,200.34 188.96,200.71 189.09,192.97 189.30,200.72 189.43,196.36 189.63,202.69 189.76,191.23 189.96,194.31 190.10,200.69 190.30,201.88 190.43,192.70 190.63,190.51 190.77,201.25 190.97,199.59 191.10,191.53 191.30,199.14 191.44,190.66 191.64,199.96 191.77,190.61 191.97,189.83 192.11,199.40 192.31,189.82 192.44,197.32 192.64,195.15 192.78,189.61 192.98,196.85 193.11,185.14 193.31,186.44 193.45,196.51 193.65,198.77 193.78,187.87 193.98,187.79 194.12,193.26 194.32,187.79 194.45,198.92 194.65,184.81 194.79,196.03 194.99,196.04 195.12,185.18 195.32,186.32 195.46,196.30 195.66,186.34 195.79,194.84 195.99,189.60 196.12,197.88 196.33,189.40 196.46,196.66 196.66,196.54 196.79,186.87 196.99,198.29 197.13,189.26 197.33,193.38 197.46,198.80 197.66,201.32 197.80,193.54 198.00,201.69 198.13,192.12 198.33,190.85 198.47,202.47 198.67,191.16 198.80,200.01 199.00,191.76 199.14,201.74 199.34,203.59 199.47,191.11 199.67,189.55 199.81,201.02 200.01,192.58 200.14,203.43 200.34,201.14 200.48,190.68 200.68,199.52 200.81,192.16 201.01,192.99 201.15,203.78 201.35,189.69 201.48,199.22 201.68,201.84 201.82,191.53 202.02,189.82 202.15,206.68 202.35,188.82 202.49,204.06 202.50,176.00 202.69,204.13 202.80,173.00 202.82,191.15 203.02,190.18 203.15,206.04 203.36,201.80 203.49,191.64 203.69,203.45 203.82,191.93 204.02,195.70 204.16,203.95 204.36,203.16 204.49,193.87 204.69,191.21 204.83,208.31 205.03,194.76 205.16,207.13 205.36,196.95 205.40,214.10 205.50,213.12 205.60,213.30 205.70,190.56 205.83,209.03 206.03,193.03 206.17,208.00 206.37,197.71 206.50,208.38 206.70,196.83 206.84,208.59 207.04,209.56 207.17,199.14 207.37,197.94 207.51,208.96 207.71,199.22 207.84,209.71 208.04,207.56 208.18,197.20 208.38,196.01 208.51,206.11 208.71,206.41 208.85,198.45 209.05,195.42 209.18,208.97 209.38,198.22 209.52,208.61 209.72,203.62 209.85,195.17 210.05,205.30 210.18,195.12 210.39,195.34 210.52,203.62 210.72,202.76 210.85,194.22 211.05,189.94 211.19,202.69 211.39,204.09 211.52,190.31 211.72,198.13 211.86,188.34 212.06,191.04 212.19,200.53 212.39,192.15 212.53,198.76 212.73,197.18 212.86,187.30 213.06,189.64 213.20,198.76 213.40,196.46 213.53,187.54 213.73,200.19 213.87,188.51 214.30,188.50 214.40,159.00 214.50,186.00 215.50,176.00 215.60,161.50 215.70,175.60 216.11,189.71 216.29,196.46 216.57,200.61 216.76,191.97 217.04,190.80 217.23,198.69 217.51,200.73 217.69,192.01 218.10,198.70 218.20,162.80 218.30,192.00 219.40,179.50 219.50,161.50 219.60,178.00 220.70,166.70 220.80,175.60 221.90,170.00 222.00,157.70 222.30,158.50 231.00,180.80 231.13,173.07 231.27,184.34 231.47,173.38 231.50,208.50 231.61,183.29 231.81,176.20 231.95,183.29 232.15,172.72 232.29,185.88 232.49,185.41 232.62,174.69 232.83,184.61 232.96,174.22 233.17,172.62 233.30,184.91 233.51,183.29 233.64,173.25 233.85,174.15 233.98,182.72 234.19,176.01 234.32,185.30 234.52,183.59 234.66,176.14 234.86,185.06 235.00,176.38 235.20,177.53 235.34,184.23 235.54,186.09 235.68,174.55 235.88,175.14 236.02,186.67 236.22,187.48 236.36,178.32 236.56,178.14 236.70,188.83 236.90,187.72 237.04,177.50 237.24,187.49 237.38,179.19 237.58,178.70 237.71,188.17 237.92,187.75 238.05,178.69 238.26,190.63 238.39,180.97 238.60,188.58 238.73,178.80 238.94,187.04 239.07,178.38 239.27,176.64 239.41,191.46 239.61,185.71 239.75,177.68 239.95,184.62 240.09,177.06 240.29,174.28 240.43,186.20 240.63,182.86 240.77,173.01 240.97,183.90 241.11,172.49 241.31,173.53 241.45,183.15 241.65,183.91 241.79,173.53 241.99,173.26 242.12,184.91 242.33,173.33 242.46,183.03 242.67,171.59 242.80,183.21 243.01,172.98 243.14,183.50 243.35,182.15 243.48,173.68 243.69,182.89 243.82,172.88 244.02,182.42 244.16,175.35 244.36,175.68 244.50,185.04 244.70,185.48 244.84,174.17 245.04,183.27 245.18,174.08 245.38,177.49 245.52,184.84 245.72,177.39 245.86,185.93 246.06,176.28 246.20,186.02 246.40,175.14 246.54,187.41 246.74,180.17 246.88,188.65 247.08,187.87 247.21,178.15 247.42,176.88 247.55,186.03 247.76,178.94 247.89,185.46 248.10,180.58 248.23,186.53 248.44,186.46 248.57,177.96 248.77,185.66 248.91,176.14 249.11,183.35 249.25,176.06 249.45,182.12 249.59,172.52 249.79,183.94 249.93,175.14 250.13,182.86 250.27,174.70 250.47,183.81 250.61,174.78 250.81,181.15 250.95,174.85 251.15,181.91 251.29,172.74 251.49,184.27 251.62,171.49 251.83,180.29 251.96,170.10 252.17,182.44 252.30,171.26 252.51,181.57 252.64,172.57 252.85,179.54 252.98,169.86 253.19,171.68 253.32,179.51 253.52,170.49 253.66,182.73 253.86,183.54 254.00,174.55 254.20,182.97 254.34,174.83 254.54,184.11 254.68,173.43 254.88,175.18 255.02,183.35 255.22,175.06 255.36,183.51 255.56,181.38 255.70,176.79 255.90,183.76 256.04,175.42 256.24,177.17 256.37,185.68 256.58,184.40 256.71,177.14 256.92,176.56 257.05,185.35 257.26,176.45 257.39,184.92 257.60,185.47 257.73,175.55 257.94,176.84 258.07,182.91 258.28,183.27 258.41,174.65 258.61,182.67 258.75,174.50 258.95,175.59 259.09,185.67 259.29,174.94 259.43,185.73 259.63,173.14 259.70,161.00 259.77,182.31 259.80,203.40" fill="none" stroke="#1e7abe" stroke-width="0.8" stroke-linejoin="round" />
<path d="M43.08 231.57h0M44.10 235.96h0M44.64 238.81h0M45.12 235.96h0M46.00 238.84h0M46.47 223.13h0M48.03 233.37h0M48.16 214.84h0M48.37 219.18h0M48.70 235.22h0M49.04 232.27h0M49.52 213.99h0M50.40 215.75h0M50.53 234.71h0M51.55 216.59h0M52.09 233.11h0M53.92 219.38h0M54.46 221.23h0M54.60 235.96h0M54.94 222.10h0M56.29 223.51h0M56.49 234.19h0M57.17 235.26h0M57.31 216.48h0M59.00 214.64h0M61.23 209.51h0M62.59 216.35h0M62.72 236.18h0M64.08 221.30h0M64.42 235.80h0M64.62 216.24h0M64.76 235.58h0M65.43 234.83h0M65.98 218.46h0M66.31 235.37h0M66.79 232.15h0M66.99 240.01h0M67.13 217.51h0M67.47 214.88h0M69.16 227.88h0M71.06 227.47h0M73.13 218.83h0M74.27 216.26h0M74.47 217.37h0M74.61 226.98h0M75.48 216.37h0M75.81 216.76h0M75.95 229.61h0M76.82 222.48h0M78.15 210.42h0M78.82 220.67h0M79.49 219.66h0M79.63 211.52h0M80.16 210.22h0M81.30 223.73h0M81.50 223.63h0M81.97 214.75h0M82.17 216.16h0M82.31 224.69h0M82.64 217.89h0M83.18 227.99h0M84.18 224.84h0M85.52 221.96h0M86.86 220.17h0M87.33 220.15h0M88.00 210.84h0M89.00 210.72h0M90.01 209.49h0M90.54 222.77h0M90.88 210.56h0M91.01 225.71h0M91.54 223.25h0M91.68 213.30h0M92.35 224.25h0M92.68 227.21h0M93.02 228.52h0M93.22 215.47h0M93.55 228.14h0M93.89 212.67h0M94.22 212.85h0M94.36 225.56h0M95.70 210.97h0M95.90 208.03h0M96.90 215.92h0M97.04 207.50h0M97.37 203.19h0M97.57 205.62h0M99.24 202.63h0M100.25 204.04h0M100.92 218.40h0M102.59 207.81h0M103.06 218.73h0M103.60 219.86h0M103.93 210.69h0M104.27 207.40h0M105.07 219.69h0M105.60 216.27h0M106.41 204.60h0M107.28 204.32h0M108.42 214.41h0M109.96 214.04h0M110.09 204.63h0M111.43 217.10h0M112.43 220.52h0M114.44 210.04h0M114.64 207.57h0M115.65 204.57h0M115.98 204.81h0M116.45 203.40h0M117.12 215.76h0M117.32 206.24h0M118.33 214.04h0M118.66 203.20h0M119.33 205.72h0M119.80 214.28h0M120.33 209.95h0M120.47 221.38h0M122.01 208.20h0M123.48 219.22h0M123.68 207.52h0M123.82 217.04h0M124.02 208.83h0M124.69 208.34h0M125.16 215.28h0M125.36 216.38h0M125.49 207.38h0M126.16 204.00h0M126.36 216.67h0M127.70 216.34h0M128.17 203.14h0M128.70 214.83h0M128.84 204.93h0M129.71 215.97h0M130.71 218.36h0M130.85 209.20h0M132.39 205.81h0M132.52 221.23h0M132.85 215.03h0M133.19 217.84h0M134.06 203.40h0M135.06 200.05h0M135.20 211.77h0M136.87 201.89h0M137.07 207.23h0M138.41 200.11h0M138.55 210.07h0M140.22 203.22h0M141.22 211.78h0M141.56 215.72h0M141.76 202.90h0M142.23 202.71h0M143.23 209.99h0M144.24 200.22h0M145.11 199.64h0M145.24 208.69h0M145.44 193.90h0M145.91 195.32h0M146.25 196.72h0M146.58 208.72h0M148.59 208.93h0M148.92 208.91h0M149.46 209.00h0M150.13 199.01h0M151.27 201.13h0M151.47 201.78h0M151.94 210.93h0M152.14 200.22h0M153.28 200.47h0M153.94 197.77h0M154.28 198.27h0M154.48 205.08h0M154.81 207.77h0M155.28 196.96h0M155.95 202.73h0M157.16 196.24h0M158.63 194.41h0M158.83 196.43h0M160.31 199.65h0M160.84 199.12h0M161.31 200.14h0M161.64 211.73h0M161.98 199.40h0M162.31 198.50h0M162.65 197.07h0M163.32 195.78h0M164.19 205.78h0M164.99 192.09h0M165.19 190.14h0M165.86 191.45h0M167.00 194.17h0M169.54 198.21h0M169.68 205.76h0M169.88 197.99h0M170.01 207.53h0M170.21 206.08h0M170.68 206.64h0M172.69 193.62h0M173.03 194.30h0M173.36 201.11h0M174.57 198.33h0M174.90 200.25h0M175.90 191.90h0M176.04 199.91h0M177.24 192.42h0M177.38 199.40h0M178.72 205.50h0M179.25 195.15h0M179.92 195.64h0M180.26 206.26h0M180.73 204.03h0M181.40 201.39h0M183.74 200.38h0M184.41 188.88h0M185.41 196.83h0M185.75 198.23h0M186.08 199.59h0M186.75 190.29h0M187.09 191.78h0M187.76 200.12h0M188.29 192.56h0M188.43 200.47h0M189.43 196.36h0M189.76 191.23h0M190.63 190.51h0M192.11 199.40h0M192.44 197.32h0M192.64 195.15h0M193.45 196.51h0M193.78 187.87h0M194.12 193.26h0M194.32 187.79h0M194.65 184.81h0M195.99 189.60h0M196.99 198.29h0M197.13 189.26h0M198.67 191.16h0M199.14 201.74h0M199.81 201.02h0M200.01 192.58h0M200.48 190.68h0M200.81 192.16h0M201.48 199.22h0M202.35 188.82h0M202.69 204.13h0M202.82 191.15h0M203.36 201.80h0M203.69 203.45h0M204.49 193.87h0M206.37 197.71h0M207.84 209.71h0M208.04 207.56h0M208.51 206.11h0M208.85 198.45h0M209.38 198.22h0M209.52 208.61h0M210.05 205.30h0M210.72 202.76h0M213.40 196.46h0M231.61 183.29h0M232.83 184.61h0M233.17 172.62h0M234.19 176.01h0M234.52 183.59h0M235.20 177.53h0M236.36 178.32h0M236.90 187.72h0M239.07 178.38h0M239.75 177.68h0M240.29 174.28h0M240.43 186.20h0M242.33 173.33h0M243.48 173.68h0M244.16 175.35h0M244.84 174.17h0M245.04 183.27h0M245.38 177.49h0M245.72 177.39h0M245.86 185.93h0M246.06 176.28h0M246.74 180.17h0M247.21 178.15h0M247.76 178.94h0M248.91 176.14h0M249.11 183.35h0M249.45 182.12h0M250.61 174.78h0M251.96 170.10h0M252.85 179.54h0M254.54 184.11h0M255.70 176.79h0M256.24 177.17h0M257.05 185.35h0M257.60 185.47h0M46.00 246.30h0M65.20 243.30h0M134.10 223.30h0M185.40 185.10h0M185.60 212.20h0M202.50 176.00h0M202.80 173.00h0M205.40 214.10h0M205.60 213.30h0M214.30 188.50h0M214.40 159.00h0M214.50 186.00h0M215.50 176.00h0M215.60 161.50h0M215.70 175.60h0M218.10 198.70h0M218.20 162.80h0M218.30 192.00h0M219.40 179.50h0M219.50 161.50h0M219.60 178.00h0M220.70 166.70h0M220.80 175.60h0M221.90 170.00h0M222.00 157.70h0M222.30 158.50h0M231.00 180.80h0M231.50 208.50h0M259.70 161.00h0M259.80 203.40h0" stroke="#1e7abe" stroke-width="1.0" stroke-linecap="round" fill="none"/>
<polyline points="42.00,224.71 42.24,225.11 42.48,225.55 42.73,226.01 42.97,226.48 43.21,226.95 43.45,227.41 43.70,227.85 43.94,228.26 44.18,228.62 44.42,228.93 44.66,229.17 44.91,229.35 45.15,229.46 45.39,229.50 45.63,229.46 45.87,229.35 46.12,229.16 46.36,228.91 46.60,228.60 46.84,228.24 47.09,227.83 47.33,227.39 47.57,226.93 47.81,226.46 48.05,225.99 48.30,225.53 48.54,225.09 48.78,224.69 49.02,224.34 49.26,224.04 49.51,223.80 49.75,223.63 49.99,223.53 50.23,223.48 50.48,223.50 50.72,223.60 50.96,223.77 51.20,224.01 51.44,224.30 51.69,224.65 51.93,225.03 52.17,225.45 52.41,225.89 52.65,226.34 52.90,226.79 53.14,227.22 53.38,227.63 53.62,228.00 53.87,228.32 54.11,228.59 54.35,228.79 54.59,228.93 54.83,229.00 55.08,228.99 55.32,228.91 55.56,228.75 55.80,228.52 56.05,228.23 56.29,227.88 56.53,227.48 56.77,227.04 57.01,226.57 57.26,226.08 57.50,225.58 57.74,225.08 57.98,224.61 58.22,224.16 58.47,223.74 58.71,223.38 58.95,223.07 59.19,222.82 59.44,222.65 59.68,222.54 59.92,222.52 60.16,222.56 60.40,222.68 60.65,222.87 60.89,223.12 61.13,223.43 61.37,223.79 61.61,224.18 61.86,224.61 62.10,225.05 62.34,225.50 62.58,225.95 62.83,226.37 63.07,226.77 63.31,227.13 63.55,227.44 63.79,227.69 64.04,227.88 64.28,228.00 64.52,228.04 64.76,228.01 65.01,227.90 65.25,227.60 65.49,227.23 65.73,226.79 65.97,226.30 66.22,225.76 66.46,225.18 66.70,224.58 66.94,223.96 67.18,223.33 67.43,222.71 67.67,222.12 67.91,221.55 68.15,221.02 68.40,220.54 68.64,220.12 68.88,219.77 69.12,219.49 69.36,219.28 69.61,219.14 69.85,219.08 70.09,219.09 70.33,219.17 70.57,219.31 70.82,219.51 71.06,219.76 71.30,220.03 71.54,220.34 71.79,220.65 72.03,220.97 72.27,221.28 72.51,221.57 72.75,221.82 73.00,222.03 73.24,222.30 73.48,222.52 73.72,222.67 73.96,222.75 74.21,222.76 74.45,222.70 74.69,222.56 74.93,222.35 75.18,222.08 75.42,221.75 75.66,221.36 75.90,220.94 76.14,220.47 76.39,219.99 76.63,219.50 76.87,219.00 77.11,218.52 77.36,218.06 77.60,217.63 77.84,217.24 78.08,216.91 78.32,216.64 78.57,216.43 78.81,216.28 79.05,216.21 79.29,216.21 79.53,216.29 79.78,216.43 80.02,216.63 80.26,216.89 80.50,217.20 80.75,217.55 80.99,217.94 81.23,218.34 81.47,218.75 81.71,219.16 81.96,219.56 82.20,219.94 82.44,220.28 82.68,220.58 82.92,220.82 83.17,221.01 83.41,221.14 83.65,221.19 83.89,221.18 84.14,221.10 84.38,220.95 84.62,220.73 84.86,220.45 85.10,220.10 85.35,219.69 85.59,219.24 85.83,218.76 86.07,218.26 86.31,217.76 86.56,217.25 86.80,216.76 87.04,216.30 87.28,215.87 87.53,215.48 87.77,215.15 88.01,214.87 88.25,214.65 88.49,214.50 88.74,214.42 88.98,214.41 89.22,214.47 89.46,214.59 89.71,214.77 89.95,215.00 90.19,215.27 90.43,215.59 90.67,215.93 90.92,216.28 91.16,216.65 91.40,217.00 91.64,217.35 91.88,217.67 92.13,217.95 92.37,218.19 92.61,218.38 92.85,218.51 93.10,218.56 93.34,218.51 93.58,218.39 93.82,218.21 94.06,217.96 94.31,217.65 94.55,217.28 94.79,216.86 95.03,216.40 95.27,215.90 95.52,215.38 95.76,214.85 96.00,214.31 96.24,213.77 96.49,213.25 96.73,212.76 96.97,212.30 97.21,211.89 97.45,211.53 97.70,211.22 97.94,210.97 98.18,210.79 98.42,210.68 98.66,210.63 98.91,210.64 99.15,210.71 99.39,210.84 99.63,211.01 99.88,211.23 100.12,211.52 100.36,211.87 100.60,212.24 100.84,212.62 101.09,212.99 101.33,213.34 101.57,213.67 101.81,213.96 102.06,214.21 102.30,214.40 102.54,214.55 102.78,214.63 103.02,214.65 103.27,214.60 103.51,214.49 103.75,214.31 103.99,214.08 104.23,213.79 104.48,213.46 104.72,213.08 104.96,212.67 105.20,212.24 105.45,211.79 105.69,211.35 105.93,210.90 106.17,210.48 106.41,210.09 106.66,209.73 106.90,209.41 107.14,209.15 107.38,208.94 107.62,208.79 107.87,208.71 108.11,208.69 108.35,208.74 108.59,208.85 108.84,209.02 109.08,209.24 109.32,209.51 109.56,209.82 109.80,210.17 110.05,210.54 110.29,210.95 110.53,211.36 110.77,211.76 111.02,212.15 111.26,212.50 111.50,212.82 111.74,213.09 111.98,213.31 112.23,213.48 112.47,213.58 112.71,213.62 112.95,213.59 113.19,213.49 113.44,213.34 113.68,213.13 113.92,212.86 114.16,212.55 114.41,212.19 114.65,211.81 114.89,211.41 115.13,211.00 115.37,210.58 115.62,210.18 115.86,209.80 116.10,209.45 116.34,209.14 116.58,208.87 116.83,208.65 117.07,208.50 117.31,208.41 117.55,208.38 117.80,208.42 118.04,208.52 118.28,208.68 118.52,208.90 118.76,209.18 119.01,209.50 119.25,209.85 119.49,210.24 119.73,210.65 119.97,211.06 120.22,211.47 120.46,211.87 120.70,212.25 120.94,212.60 121.19,212.91 121.43,213.17 121.67,213.38 121.91,213.52 122.15,213.61 122.40,213.63 122.64,213.58 122.88,213.47 123.12,213.30 123.37,213.07 123.61,212.79 123.85,212.46 124.09,212.10 124.33,211.71 124.58,211.30 124.82,210.81 125.06,210.31 125.30,209.82 125.54,209.36 125.79,208.93 126.03,208.55 126.27,208.21 126.51,207.92 126.76,207.70 127.00,207.54 127.24,207.44 127.48,207.41 127.72,207.45 127.97,207.55 128.21,207.70 128.45,207.90 128.69,208.15 128.93,208.43 129.18,208.74 129.42,209.07 129.66,209.40 129.90,209.73 130.15,210.04 130.39,210.33 130.63,210.58 130.87,210.79 131.11,210.96 131.36,211.06 131.60,211.11 131.84,211.09 132.08,211.01 132.32,210.86 132.57,210.64 132.81,210.37 133.05,210.04 133.29,209.66 133.54,209.23 133.78,208.78 134.02,208.29 134.26,207.80 134.50,207.29 134.75,206.80 134.99,206.32 135.23,205.86 135.47,205.44 135.72,205.06 135.96,204.74 136.20,204.50 136.44,204.33 136.68,204.22 136.93,204.18 137.17,204.21 137.41,204.30 137.65,204.45 137.89,204.65 138.14,204.90 138.38,205.20 138.62,205.53 138.86,205.88 139.11,206.25 139.35,206.62 139.59,206.98 139.83,207.33 140.07,207.65 140.32,207.93 140.56,208.17 140.80,208.35 141.04,208.48 141.28,208.54 141.53,208.54 141.77,208.48 142.01,208.35 142.25,208.15 142.50,207.90 142.74,207.59 142.98,207.23 143.22,206.83 143.46,206.40 143.71,205.95 143.95,205.48 144.19,205.01 144.43,204.56 144.67,204.12 144.92,203.70 145.16,203.33 145.40,203.00 145.64,202.73 145.89,202.51 146.13,202.36 146.37,202.27 146.61,202.25 146.85,202.29 147.10,202.40 147.34,202.56 147.58,202.78 147.82,203.05 148.07,203.36 148.31,203.70 148.55,204.06 148.79,204.43 149.03,204.80 149.28,205.16 149.52,205.50 149.76,205.81 150.00,206.08 150.24,206.31 150.49,206.48 150.73,206.59 150.97,206.64 151.21,206.62 151.46,206.54 151.70,206.39 151.94,206.18 152.18,205.90 152.42,205.58 152.67,205.21 152.91,204.80 153.15,204.36 153.39,203.90 153.63,203.43 153.88,202.96 154.12,202.51 154.36,202.07 154.60,201.67 154.85,201.30 155.09,200.99 155.33,200.73 155.57,200.53 155.81,200.39 156.06,200.32 156.30,200.32 156.54,200.38 156.78,200.50 157.03,200.68 157.27,200.92 157.51,201.20 157.75,201.52 157.99,201.87 158.24,202.23 158.48,202.61 158.72,202.98 158.96,203.33 159.20,203.67 159.45,203.97 159.69,204.23 159.93,204.45 160.17,204.60 160.42,204.70 160.66,204.73 160.90,204.69 161.14,204.59 161.38,204.42 161.63,204.19 161.87,203.91 162.11,203.57 162.35,203.18 162.59,202.76 162.84,202.31 163.08,201.85 163.32,201.38 163.56,200.91 163.81,200.46 164.05,200.03 164.29,199.63 164.53,199.28 164.77,198.98 165.02,198.73 165.26,198.55 165.50,198.43 165.74,198.38 165.98,198.39 166.23,198.47 166.47,198.61 166.71,198.81 166.95,199.06 167.20,199.35 167.44,199.68 167.68,200.04 167.92,200.41 168.16,200.78 168.41,201.16 168.65,201.51 168.89,201.84 169.13,202.13 169.38,202.38 169.62,202.58 169.86,202.72 170.10,202.80 170.34,202.81 170.59,202.76 170.83,202.64 171.07,202.45 171.31,202.21 171.55,201.90 171.80,201.55 172.04,201.15 172.28,200.72 172.52,200.27 172.77,199.80 173.01,199.32 173.25,198.86 173.49,198.41 173.73,197.98 173.98,197.60 174.22,197.26 174.46,196.97 174.70,196.74 174.94,196.57 175.19,196.47 175.43,196.44 175.67,196.47 175.91,196.57 176.16,196.73 176.40,196.96 176.64,197.24 176.88,197.56 177.12,197.91 177.37,198.28 177.61,198.67 177.85,199.06 178.09,199.44 178.33,199.80 178.58,200.13 178.82,200.43 179.06,200.68 179.30,200.88 179.55,201.01 179.79,201.09 180.03,201.09 180.27,201.03 180.51,200.91 180.76,200.72 181.00,200.46 181.24,200.16 181.48,199.80 181.73,199.40 181.97,198.98 182.21,198.53 182.45,198.06 182.69,197.60 182.94,197.15 183.18,196.72 183.42,196.31 183.66,195.95 183.90,195.63 184.15,195.37 184.39,195.17 184.63,195.03 184.87,194.96 185.12,194.96 185.36,195.02 185.60,195.15 185.84,195.34 186.08,195.57 186.33,195.84 186.57,196.14 186.81,196.48 187.05,196.84 187.29,197.20 187.54,197.57 187.78,197.92 188.02,198.26 188.26,198.56 188.51,198.82 188.75,199.03 188.99,199.19 189.23,199.29 189.47,199.32 189.72,199.28 189.96,199.18 190.20,199.01 190.44,198.78 190.68,198.48 190.93,198.14 191.17,197.74 191.41,197.31 191.65,196.85 191.90,196.37 192.14,195.88 192.38,195.39 192.62,194.92 192.86,194.47 193.11,194.05 193.35,193.67 193.59,193.35 193.83,193.07 194.08,192.87 194.32,192.72 194.56,192.64 194.80,192.64 195.04,192.69 195.29,192.81 195.53,192.99 195.77,193.23 196.01,193.51 196.25,193.79 196.50,194.11 196.74,194.44 196.98,194.78 197.22,195.11 197.47,195.43 197.71,195.73 197.95,195.99 198.19,194.18 198.43,194.09 198.68,194.00 198.92,193.91 199.16,193.81 199.40,193.72 199.64,193.63 199.89,193.54 200.13,193.55 200.37,193.65 200.61,193.75 200.86,193.84 201.10,193.94 201.34,194.04 201.58,194.13 201.82,194.23 202.07,194.33 202.31,194.42 202.55,194.52 202.79,194.62 203.04,194.71 203.28,194.81 203.52,194.91 203.76,195.00 204.00,195.10 204.25,195.20 204.49,195.30 204.73,195.39 204.97,195.49 205.21,195.37 205.46,195.23 205.70,195.08 205.94,194.94 206.18,194.79 206.43,194.64 206.67,194.50 206.91,194.35 207.15,194.21 207.39,194.06 207.64,193.92 207.88,193.77 208.12,193.63 208.36,193.48 208.60,193.34 208.85,193.19 209.09,193.05 209.33,192.90 209.57,192.76 209.82,192.61 210.06,192.53 210.30,192.65 210.54,192.77 210.78,192.89 211.03,193.01 211.27,193.13 211.51,193.26 211.75,193.38 211.99,193.50 212.24,193.62 212.48,193.74 212.72,193.86 212.96,193.98 213.21,194.04 213.45,194.09 213.69,194.14 213.93,194.19 214.17,194.23 214.42,194.28 214.66,194.33 214.90,194.38 215.14,194.43 215.39,194.48 215.63,194.53 215.87,194.57 216.11,194.62 216.35,194.67 216.60,194.72 216.84,194.77 217.08,194.82 217.32,194.86 217.56,194.91 217.81,194.96 218.05,194.95 218.29,194.73 218.53,194.50 218.78,194.28 219.02,194.06 219.26,193.83 219.50,193.61 219.74,193.38 219.99,193.16 220.23,192.93 220.47,192.71 220.71,192.48 220.95,192.26 221.20,192.03 221.44,191.81 221.68,191.58 221.92,191.36 222.17,191.13 222.41,190.91 222.65,190.68 222.89,190.46 223.13,190.23 223.38,190.01 223.62,189.78 223.86,189.56 224.10,189.33 224.34,189.11 224.59,188.88 224.83,188.66 225.07,188.43 225.31,188.19 225.56,187.94 225.80,187.70 226.04,187.46 226.28,187.22 226.52,186.98 226.77,186.73 227.01,186.49 227.25,186.25 227.49,186.01 227.74,185.76 227.98,185.52 228.22,185.28 228.46,185.04 228.70,184.80 228.95,184.55 229.19,184.31 229.43,184.07 229.67,183.83 229.91,183.59 230.16,183.34 230.40,183.10 230.64,182.86 230.88,182.62 231.13,181.51 231.37,181.09 231.61,180.70 231.85,180.36 232.09,180.07 232.34,179.84 232.58,179.67 232.82,179.57 233.06,179.53 233.30,179.57 233.55,179.67 233.79,179.84 234.03,180.06 234.27,180.34 234.52,180.67 234.76,181.03 235.00,181.42 235.24,181.83 235.48,182.24 235.73,182.65 235.97,183.04 236.21,183.40 236.45,183.72 236.69,183.99 236.94,184.22 237.18,184.38 237.42,184.48 237.66,184.51 237.91,184.48 238.15,184.37 238.39,184.20 238.63,183.96 238.87,183.67 239.12,183.32 239.36,182.93 239.60,182.50 239.84,182.05 240.09,181.58 240.33,181.10 240.57,180.63 240.81,180.18 241.05,179.76 241.30,179.37 241.54,179.03 241.78,178.74 242.02,178.51 242.26,178.35 242.51,178.25 242.75,178.22 242.99,178.27 243.23,178.37 243.48,178.55 243.72,178.78 243.96,179.06 244.20,179.39 244.44,179.75 244.69,180.13 244.93,180.53 245.17,180.93 245.41,181.33 245.65,181.71 245.90,182.05 246.14,182.36 246.38,182.63 246.62,182.83 246.87,182.98 247.11,183.07 247.35,183.08 247.59,183.02 247.83,182.90 248.08,182.71 248.32,182.46 248.56,182.14 248.80,181.78 249.05,181.38 249.29,180.94 249.53,180.48 249.77,180.00 250.01,179.53 250.26,179.06 250.50,178.61 250.74,178.20 250.98,177.82 251.22,177.49 251.47,177.22 251.71,177.01 251.95,176.86 252.19,176.78 252.44,176.77 252.68,176.83 252.92,176.96 253.16,177.15 253.40,177.40 253.65,177.69 253.89,178.03 254.13,178.40 254.37,178.79 254.61,179.20 254.86,179.60 255.10,180.00 255.34,180.37 255.58,180.71 255.83,181.01 256.07,181.26 256.31,181.45 256.55,181.59 256.79,181.66 257.04,181.66 257.28,181.59 257.52,181.45 257.76,181.24 258.00,180.97 258.25,180.65 258.49,180.28 258.73,179.86 258.97,179.42 259.22,178.96 259.46,178.48 259.70,178.01" fill="none" stroke="#ff7f0e" stroke-width="1.0" stroke-linejoin="round" stroke-dasharray="2.1 1.1"/>
<rect x="31.4" y="153.6" width="239.50" height="96.80" fill="none" stroke="#4a4a4a" stroke-width="0.6"/>
<text x="39.40" y="259.60" font-size="7.4" text-anchor="middle" textLength="13.80" lengthAdjust="spacingAndGlyphs">2000</text>
<text x="87.50" y="259.60" font-size="7.4" text-anchor="middle" textLength="13.80" lengthAdjust="spacingAndGlyphs">2005</text>
<text x="135.60" y="259.60" font-size="7.4" text-anchor="middle" textLength="13.80" lengthAdjust="spacingAndGlyphs">2010</text>
<text x="183.70" y="259.60" font-size="7.4" text-anchor="middle" textLength="13.80" lengthAdjust="spacingAndGlyphs">2015</text>
<text x="231.80" y="259.60" font-size="7.4" text-anchor="middle" textLength="13.80" lengthAdjust="spacingAndGlyphs">2020</text>
<text x="28.50" y="173.28" font-size="7.4" text-anchor="end" textLength="12.40" lengthAdjust="spacingAndGlyphs">0.01</text>
<text x="28.50" y="200.05" font-size="7.4" text-anchor="end" textLength="12.60" lengthAdjust="spacingAndGlyphs">0.00</text>
<text x="28.50" y="226.82" font-size="7.4" text-anchor="end" textLength="15.20" lengthAdjust="spacingAndGlyphs">−0.01</text>
<text x="28.50" y="253.59" font-size="7.4" text-anchor="end" textLength="15.30" lengthAdjust="spacingAndGlyphs">−0.02</text>
<path d="M39.40 250.4v1.4M87.50 250.4v1.4M135.60 250.4v1.4M183.70 250.4v1.4M231.80 250.4v1.4M31.4 169.98h-1.4M31.4 196.75h-1.4M31.4 223.52h-1.4M31.4 250.29h-1.4" stroke="#4a4a4a" stroke-width="0.45" fill="none"/>
<text x="151.15" y="151.90" font-size="8.0" text-anchor="middle" textLength="48.10" lengthAdjust="spacingAndGlyphs">North: Position</text>
<text x="151.15" y="268.30" font-size="8.0" text-anchor="middle" textLength="43.30" lengthAdjust="spacingAndGlyphs">Epoch (years)</text>
<text transform="translate(9.4,202.60) rotate(-90)" x="0" y="0" font-size="8.0" text-anchor="middle" textLength="30.8" lengthAdjust="spacingAndGlyphs">Value (m)</text>
<rect x="34.1" y="156.2" width="36.40" height="17.90" rx="1" fill="#ffffff" fill-opacity="0.8" stroke="#d0d0d0" stroke-width="0.45"/>
<path d="M36.2 160.3H47.9" stroke="#1e7abe" stroke-width="0.7"/>
<circle cx="42.05" cy="160.3" r="0.9" fill="#1e7abe"/>
<text x="52.10" y="162.60" font-size="6.2" textLength="11.30" lengthAdjust="spacingAndGlyphs">Data</text>
<path d="M37.0 168.8H47.9" stroke="#ff7f0e" stroke-width="1.1" stroke-dasharray="1.9 1.3"/>
<text x="52.10" y="171.10" font-size="6.2" textLength="15.90" lengthAdjust="spacingAndGlyphs">Model</text>
<path d="M315.00 153.6V250.4M363.10 153.6V250.4M411.20 153.6V250.4M459.30 153.6V250.4M507.40 153.6V250.4M306.8 166.50H546.3M306.8 186.50H546.3M306.8 206.50H546.3M306.8 226.50H546.3M306.8 246.50H546.3" stroke="#b0b0b0" stroke-width="0.45" fill="none"/>
<polyline points="317.93,196.86 318.07,217.61 318.10,185.00 318.27,223.96 318.41,202.01 318.61,214.80 318.74,197.35 318.95,218.20 319.08,198.25 319.28,182.83 319.42,217.97 319.62,217.11 319.76,194.37 319.96,195.00 320.09,216.10 320.30,214.75 320.43,199.57 320.63,214.30 320.77,197.16 320.97,200.15 321.11,221.51 321.31,216.03 321.40,228.20 321.44,201.27 321.65,219.28 321.78,195.76 321.98,218.52 322.12,200.70 322.32,215.27 322.46,192.84 322.66,215.45 322.79,196.11 323.00,193.90 323.13,219.60 323.33,184.32 323.47,213.73 323.67,196.03 323.81,211.70 324.01,213.97 324.15,200.57 324.35,199.47 324.48,214.96 324.69,191.18 324.82,213.42 325.02,216.79 325.16,197.57 325.36,214.83 325.50,197.12 325.70,218.79 325.83,197.76 326.04,193.65 326.17,215.95 326.37,214.11 326.51,195.84 326.71,216.67 326.85,198.29 327.05,198.02 327.18,215.84 327.39,202.91 327.52,219.25 327.72,191.45 327.86,216.37 328.06,191.88 328.20,223.02 328.40,197.28 328.53,217.23 328.74,218.62 328.87,197.55 329.07,217.30 329.21,195.71 329.41,194.98 329.55,215.49 329.75,197.26 329.89,215.08 330.09,199.27 330.22,219.71 330.43,214.89 330.56,198.94 330.76,219.36 330.90,198.49 331.10,214.69 331.24,191.86 331.44,189.02 331.57,220.82 331.78,201.39 331.91,220.66 332.11,225.14 332.25,199.69 332.45,215.91 332.59,191.90 332.79,215.99 332.92,198.25 333.13,216.57 333.26,186.19 333.46,193.83 333.60,217.79 333.80,196.61 333.94,215.93 334.14,200.05 334.27,218.18 334.48,200.22 334.61,215.71 334.81,193.15 334.95,215.96 335.15,196.99 335.29,215.60 335.49,218.80 335.63,189.31 335.83,198.66 335.96,214.58 336.17,217.40 336.30,199.06 336.50,187.39 336.64,216.84 336.84,215.85 336.98,196.74 337.18,198.42 337.31,213.40 337.52,218.51 337.65,196.85 337.85,197.45 337.99,214.79 338.19,198.46 338.33,210.06 338.53,214.80 338.66,195.87 338.87,198.44 339.00,220.78 339.20,214.86 339.34,190.97 339.54,215.93 339.68,197.04 339.88,194.24 340.00,228.20 340.01,219.41 340.22,218.97 340.35,193.82 340.55,195.12 340.69,214.09 340.89,214.85 341.03,192.29 341.23,193.16 341.37,216.48 341.57,218.05 341.70,199.96 341.91,220.06 342.04,199.34 342.24,211.18 342.38,199.28 342.58,214.94 342.72,200.25 342.92,220.57 343.05,194.69 343.26,194.00 343.39,217.31 343.59,221.09 343.73,181.50 343.93,213.84 344.07,195.47 344.27,190.94 344.40,223.68 344.61,213.03 344.74,199.94 344.94,226.94 345.08,196.43 345.28,220.35 345.42,184.84 345.62,226.03 345.75,199.26 345.96,198.10 346.09,221.28 346.29,213.90 346.43,187.40 346.63,214.22 346.77,195.80 348.83,201.16 348.97,217.33 349.17,213.75 349.30,196.53 349.50,213.16 349.64,194.38 349.84,217.76 349.97,200.06 350.17,193.21 350.30,215.67 350.50,199.59 350.64,213.07 350.84,198.35 350.97,223.34 351.17,212.49 351.31,198.83 351.51,195.71 351.64,213.69 351.84,216.80 351.98,196.39 352.18,197.14 352.31,215.83 352.51,199.19 352.64,218.45 352.84,199.84 352.98,214.41 353.18,196.81 353.31,216.62 353.51,218.48 353.65,196.60 353.85,221.98 353.98,202.29 354.18,215.14 354.32,198.74 354.52,214.64 354.65,201.29 354.85,202.30 354.98,216.47 355.18,213.43 355.32,192.74 355.52,198.82 355.65,220.79 355.85,216.86 355.99,196.31 356.19,199.88 356.32,216.25 356.52,200.29 356.66,211.68 356.86,212.35 356.99,196.16 357.19,195.20 357.32,212.51 357.52,201.58 357.66,220.05 357.86,189.35 357.99,214.05 358.19,213.14 358.33,192.69 358.53,211.70 358.66,200.15 358.86,214.75 359.00,195.76 359.20,200.16 359.33,215.75 359.53,199.48 359.66,218.54 359.86,214.23 360.00,187.59 360.20,209.98 360.33,198.54 360.53,214.23 360.67,198.95 360.87,198.70 361.00,213.44 361.20,191.45 361.34,215.78 361.54,199.94 361.67,211.01 361.87,195.86 362.00,216.43 362.20,193.33 362.34,213.20 362.54,214.69 362.67,203.46 362.87,198.58 363.01,215.37 363.21,217.45 363.34,200.71 363.54,196.47 363.68,217.32 363.88,212.34 364.01,199.67 364.21,202.16 364.34,215.25 364.54,197.84 364.68,211.54 364.88,192.11 365.01,218.11 365.21,216.54 365.35,196.24 365.55,214.59 365.68,197.85 365.88,209.91 366.02,195.98 366.22,194.17 366.35,215.38 366.55,209.30 366.68,195.98 366.88,218.98 367.02,195.19 367.22,214.77 367.35,193.40 367.55,214.04 367.69,197.16 367.89,193.60 368.02,213.23 368.22,196.65 368.36,211.03 368.56,215.44 368.69,195.76 368.89,196.23 369.02,211.97 369.22,219.87 369.36,198.66 369.56,209.02 369.69,195.40 369.89,189.10 370.03,212.58 370.23,211.91 370.36,191.01 370.56,213.14 370.70,195.32 370.90,193.99 371.03,211.87 371.23,196.64 371.36,209.55 371.57,195.11 371.70,214.19 371.90,209.45 372.03,192.47 372.23,211.91 372.37,194.50 372.57,197.62 372.70,211.07 372.90,199.08 373.00,186.50 373.04,216.31 373.24,211.35 373.37,196.55 373.57,194.53 373.70,212.31 373.91,191.81 374.04,209.23 374.24,193.64 374.37,208.00 374.57,209.77 374.71,196.95 374.91,207.40 375.04,196.93 375.24,210.71 375.38,193.61 375.58,211.64 375.71,193.93 375.91,208.46 376.04,186.19 376.25,214.20 376.38,194.96 376.58,213.16 376.71,193.15 376.91,213.50 377.05,193.83 377.25,217.01 377.38,190.62 377.58,197.15 377.72,208.72 377.92,213.06 378.05,187.30 378.25,194.93 378.38,212.92 378.59,194.03 378.72,211.34 378.92,210.60 379.05,194.59 379.25,209.59 379.39,194.77 379.59,208.68 379.72,186.04 379.92,194.34 380.06,210.88 380.26,197.26 380.39,209.27 380.59,194.35 380.72,212.03 380.93,193.03 381.06,219.64 381.26,190.40 381.39,211.49 381.59,198.44 381.73,211.47 381.93,212.59 382.06,194.72 382.26,210.60 382.40,201.30 382.60,199.92 382.73,211.33 382.93,209.93 383.06,194.87 383.27,195.06 383.40,210.94 383.60,183.39 383.73,209.67 383.93,218.02 384.07,192.69 384.27,216.91 384.40,196.90 384.60,197.33 384.74,220.64 384.94,212.77 385.07,190.76 385.27,209.32 385.40,195.08 385.61,197.89 385.74,216.09 385.94,208.34 386.07,199.67 386.27,215.30 386.41,195.90 386.61,210.39 386.74,191.95 386.94,195.14 387.08,210.62 387.28,199.19 387.41,211.99 387.61,213.35 387.74,199.28 387.95,192.63 388.08,213.78 388.28,217.75 388.41,196.07 388.61,200.56 388.75,213.37 388.95,212.91 389.08,198.91 389.28,212.74 389.42,196.47 389.62,210.39 389.75,194.77 389.95,214.55 390.08,197.90 390.29,194.88 390.42,212.85 390.62,208.83 390.75,194.32 390.95,223.69 391.09,198.28 391.29,213.31 391.42,199.34 391.62,214.51 391.76,200.43 391.96,193.31 392.09,221.38 392.29,212.23 392.42,200.52 392.63,210.39 392.76,196.44 392.96,213.81 393.09,197.75 393.29,188.09 393.43,214.33 393.63,212.79 393.76,198.52 393.96,213.19 394.10,196.71 394.30,214.40 394.43,198.53 394.63,200.20 394.76,218.44 394.97,216.41 395.10,201.98 395.30,217.21 395.43,196.79 395.63,199.56 395.77,216.77 395.97,203.54 396.10,215.54 396.30,199.25 396.44,215.52 396.64,215.75 396.77,197.56 396.97,199.97 397.10,219.97 397.31,220.25 397.44,201.89 397.64,219.78 397.77,199.13 397.97,219.66 398.11,197.31 398.31,220.30 398.44,202.97 398.64,214.90 398.78,197.34 398.98,225.42 399.11,205.26 399.31,222.34 399.45,198.07 399.65,219.08 399.78,201.00 399.98,204.97 400.11,217.00 400.31,200.44 400.45,217.69 400.65,198.38 400.78,216.87 400.98,215.56 401.12,203.42 401.32,204.61 401.45,217.96 401.65,218.49 401.79,198.04 401.99,216.85 402.12,202.71 402.32,216.76 402.45,203.77 402.65,199.06 402.79,216.45 402.99,204.65 403.12,220.23 403.32,215.52 403.46,200.18 403.66,199.58 403.79,221.88 403.99,199.90 404.13,214.76 404.33,218.81 404.46,201.22 404.66,217.08 404.79,199.09 404.99,200.89 405.13,225.20 405.33,218.60 405.46,197.89 405.66,215.35 405.80,202.68 406.00,215.79 406.13,200.31 406.33,200.05 406.47,213.79 406.67,213.44 406.80,193.28 407.00,201.70 407.13,220.34 407.33,217.96 407.47,204.17 407.67,197.10 407.80,215.76 408.00,220.49 408.14,201.85 408.34,195.38 408.47,214.43 408.67,201.77 408.81,220.63 409.01,225.31 409.14,195.22 409.30,228.20 409.34,229.01 409.47,201.38 409.67,202.41 409.81,221.58 410.01,218.72 410.14,200.03 410.34,215.90 410.48,194.73 410.68,195.14 410.81,222.07 411.01,204.36 411.15,216.62 411.35,213.31 411.48,199.91 411.68,219.63 411.81,197.32 412.01,220.87 412.15,201.34 412.35,216.50 412.48,197.20 412.68,199.26 412.82,215.11 413.02,199.66 413.15,215.77 413.35,213.37 413.49,194.69 413.69,217.23 413.82,199.44 414.02,213.97 414.15,193.24 414.35,196.27 414.49,220.12 414.69,213.16 414.82,196.56 415.02,213.67 415.16,199.20 415.36,201.61 415.49,213.76 415.69,216.49 415.83,196.44 416.03,192.58 416.16,213.30 416.36,199.55 416.49,215.71 416.69,201.77 416.83,217.60 417.03,198.94 417.16,213.49 417.36,217.77 417.50,197.66 417.70,196.09 417.83,216.00 418.03,216.25 418.17,197.43 418.37,215.19 418.50,201.00 418.70,213.38 418.83,198.46 419.03,196.47 419.17,210.22 419.37,200.48 419.50,219.38 419.70,200.60 419.84,213.56 420.04,221.18 420.17,196.56 420.37,200.25 420.51,213.37 420.71,197.79 420.84,222.10 421.04,216.29 421.17,197.59 421.37,217.10 421.51,198.98 421.71,217.24 421.84,200.38 422.04,198.53 422.18,216.18 422.38,215.85 422.51,200.53 422.71,212.49 422.85,200.87 423.05,196.33 423.18,212.17 423.38,214.36 423.51,201.70 423.71,197.86 423.85,213.07 424.05,199.46 424.18,217.10 424.38,197.85 424.52,214.77 424.60,194.50 424.72,211.94 424.85,196.78 425.05,219.66 425.19,199.50 425.39,213.60 425.52,200.01 425.72,197.54 425.85,216.59 426.05,198.08 426.19,213.85 426.39,216.95 426.52,190.90 426.72,213.95 426.86,197.37 427.06,197.52 427.19,213.23 427.39,195.44 427.53,218.62 427.73,212.85 427.86,198.12 428.06,216.12 428.19,200.02 428.39,215.74 428.53,200.80 428.73,214.41 428.86,195.25 429.06,210.69 429.20,196.83 429.40,199.52 429.53,213.76 429.73,198.09 429.87,213.14 430.07,213.77 430.20,202.20 430.40,210.62 430.53,202.10 430.73,199.80 430.87,215.53 431.07,201.67 431.20,216.16 431.40,211.34 431.54,196.31 431.74,213.72 431.87,194.58 432.07,212.95 432.21,199.77 432.41,196.81 432.54,215.88 432.74,212.66 432.87,198.33 433.07,196.81 433.21,214.06 433.41,213.07 433.54,200.33 433.74,210.47 433.88,198.70 434.08,197.67 434.21,213.87 434.41,198.92 434.55,219.00 434.75,195.67 434.88,212.14 435.08,200.50 435.21,214.31 435.41,212.22 435.55,197.78 435.75,201.13 435.88,217.63 436.08,190.82 436.22,210.51 436.42,215.54 436.55,194.79 436.75,198.95 436.89,213.25 437.09,213.98 437.22,192.72 437.42,200.74 437.55,218.93 437.75,211.79 437.89,197.61 438.09,200.92 438.22,215.68 438.42,216.40 438.56,196.16 438.76,214.23 438.89,195.87 439.09,199.31 439.23,213.04 439.43,216.46 439.56,199.22 439.76,201.67 439.89,214.18 440.10,216.28 440.23,189.63 440.43,200.51 440.56,214.54 440.76,219.40 440.90,194.97 441.10,214.77 441.23,198.56 441.43,213.49 441.57,199.53 441.77,216.98 441.90,195.97 442.10,214.28 442.23,194.75 442.44,196.29 442.57,211.27 442.77,215.25 442.90,200.73 443.10,216.30 443.24,198.84 443.44,216.78 443.57,201.81 443.77,213.75 443.91,200.51 444.11,214.10 444.24,201.07 444.44,209.94 444.57,197.49 444.78,218.67 444.91,200.22 445.11,199.72 445.24,216.69 445.44,198.50 445.58,213.72 445.78,199.46 445.91,213.07 446.11,194.34 446.25,221.93 446.45,195.09 446.58,216.16 446.78,199.06 446.91,214.65 447.12,195.62 447.25,219.27 447.45,214.27 447.58,201.30 447.78,216.72 447.92,194.81 448.12,213.05 448.25,199.39 448.45,212.10 448.59,196.66 448.79,200.75 448.92,212.78 449.12,203.24 449.25,212.01 449.46,196.66 449.59,217.22 449.79,196.61 449.92,213.96 450.12,197.98 450.26,216.37 450.46,220.15 450.59,196.48 450.79,211.63 450.93,201.83 451.13,197.25 451.26,214.43 451.46,219.16 451.59,201.73 451.80,203.49 451.93,214.57 452.13,221.63 452.26,198.19 452.46,215.06 452.60,194.98 452.80,211.99 452.93,199.53 453.13,212.44 453.27,197.61 453.47,196.64 453.60,212.94 453.80,214.72 453.93,200.83 454.14,195.81 454.27,213.26 454.47,200.86 454.60,223.72 454.80,214.69 454.94,201.31 455.14,199.17 455.27,209.77 455.47,212.91 455.61,186.87 455.81,194.68 455.94,211.93 456.14,193.58 456.27,213.55 456.48,196.50 456.61,218.24 456.81,213.80 456.94,199.02 457.14,219.85 457.28,199.69 457.48,190.90 457.61,213.01 457.81,212.85 457.95,197.29 458.15,211.93 458.28,202.27 458.48,195.52 458.61,217.51 458.82,210.40 458.95,201.69 459.15,193.61 459.28,211.19 459.48,216.52 459.62,194.31 459.82,213.40 459.95,194.44 460.15,192.76 460.29,212.89 460.49,217.78 460.62,200.05 460.82,199.12 460.95,213.90 461.16,201.43 461.29,220.26 461.49,214.87 461.50,235.00 461.62,198.62 461.82,194.37 461.96,212.54 462.16,191.96 462.29,213.88 462.49,199.28 462.63,213.92 462.83,214.00 462.96,194.90 463.16,193.15 463.29,211.60 463.50,198.85 463.63,214.44 463.83,220.32 463.96,199.06 464.16,211.64 464.30,199.26 464.50,197.00 464.63,209.90 464.83,198.43 464.97,212.58 465.17,196.56 465.30,212.85 465.50,213.98 465.63,194.97 465.84,200.37 465.97,211.89 466.17,217.13 466.30,202.05 466.50,220.50 466.64,196.48 466.84,203.15 466.97,211.98 467.17,200.56 467.31,213.47 467.51,187.20 467.64,218.43 467.84,214.68 467.98,195.04 468.18,200.71 468.31,219.38 468.51,215.21 468.64,198.79 468.84,211.22 468.98,201.86 469.18,203.02 469.31,217.39 469.51,214.40 469.65,196.80 469.85,200.76 469.98,216.31 470.18,220.35 470.32,199.85 470.52,197.52 470.65,213.71 470.85,215.70 470.98,195.60 471.18,212.92 471.32,199.62 471.52,209.50 471.65,200.20 471.85,199.25 471.99,217.37 472.19,212.81 472.32,195.73 472.52,188.96 472.66,219.40 472.86,215.51 472.99,202.45 473.19,198.41 473.32,212.55 473.52,211.63 473.66,198.26 473.86,195.71 473.99,212.82 474.19,212.78 474.33,203.94 474.53,199.59 474.66,211.06 474.86,210.72 475.00,199.30 475.20,211.91 475.33,197.59 475.53,210.27 475.66,196.23 475.86,196.74 476.00,218.12 476.20,212.98 476.33,193.50 476.53,221.87 476.67,192.60 476.87,221.10 477.00,198.46 477.20,210.64 477.34,199.32 477.54,200.46 477.67,213.10 477.70,177.90 477.87,186.75 478.00,213.65 478.20,210.38 478.34,199.47 478.54,200.86 478.67,214.51 478.87,215.02 479.01,191.69 479.21,197.08 479.34,217.68 479.54,194.19 479.68,216.86 479.88,203.18 480.01,219.32 480.21,219.18 480.30,237.90 480.34,198.77 480.54,204.18 480.68,218.45 480.88,203.60 481.01,216.57 481.21,227.18 481.35,202.86 481.55,219.86 481.68,200.05 481.88,202.62 482.02,217.97 482.22,201.45 482.35,217.64 482.55,224.89 482.68,197.82 482.88,203.81 483.02,220.89 483.22,220.33 483.35,202.07 483.55,195.34 483.69,228.34 483.89,217.42 484.02,202.40 484.22,215.61 484.36,186.86 484.56,215.60 484.69,201.55 484.89,194.55 485.02,215.81 485.22,218.23 485.36,199.77 485.56,198.93 485.69,217.02 485.80,193.40 485.89,212.36 486.03,198.79 486.23,210.71 486.36,196.26 486.56,212.51 486.70,197.05 486.90,199.23 487.03,213.93 487.23,197.92 487.36,215.43 487.56,210.04 487.70,201.43 487.90,213.82 488.03,200.60 488.23,199.54 488.37,209.45 488.90,219.60 489.00,157.30 489.10,205.00 491.10,194.00 491.20,157.00 491.30,194.00 492.40,190.00 492.50,160.00 492.60,200.00 493.08,202.03 493.32,211.38 493.68,213.20 493.92,203.43 494.28,214.55 494.52,202.32 495.50,201.00 495.60,159.00 495.70,195.00 496.60,158.00 496.70,185.00 497.50,157.30 498.00,158.80 506.40,205.00 506.53,196.75 506.67,215.76 506.70,243.40 506.87,211.04 507.01,200.93 507.20,244.20 507.21,201.88 507.35,217.90 507.55,217.29 507.68,198.65 507.89,198.49 508.02,214.01 508.23,218.25 508.36,193.75 508.57,214.50 508.70,199.22 508.90,198.03 509.04,216.09 509.24,196.91 509.38,210.61 509.58,210.47 509.72,199.63 509.92,199.17 510.06,212.29 510.26,197.96 510.39,220.73 510.60,198.43 510.73,216.34 510.94,195.86 511.07,214.16 511.28,199.67 511.41,217.38 511.61,200.13 511.75,212.86 511.95,213.96 512.09,198.42 512.29,213.90 512.43,199.16 512.63,212.96 512.77,197.06 512.97,194.40 513.11,212.95 513.31,216.49 513.44,199.54 513.65,200.55 513.78,210.46 513.99,218.90 514.12,197.78 514.33,216.19 514.46,198.34 514.66,215.46 514.80,202.95 515.00,221.36 515.14,195.13 515.34,212.67 515.48,200.40 515.68,193.12 515.82,214.71 516.02,199.72 516.15,212.48 516.36,201.23 516.49,208.85 516.70,211.64 516.83,198.35 517.04,211.77 517.17,201.07 517.37,212.29 517.51,198.00 517.71,226.28 517.85,202.35 518.05,209.93 518.19,201.66 518.39,196.31 518.53,212.58 518.73,212.30 518.87,196.55 519.07,215.61 519.20,200.35 519.41,195.81 519.54,211.20 519.75,212.36 519.88,190.03 520.09,200.20 520.22,213.59 520.42,187.47 520.56,219.13 520.76,192.58 520.90,218.44 521.10,198.21 521.24,215.30 521.44,199.05 521.58,215.19 521.78,197.10 521.91,217.28 522.12,200.50 522.25,215.81 522.46,215.60 522.59,194.47 522.80,211.16 522.93,198.32 523.13,212.85 523.27,199.35 523.47,214.91 523.61,197.38 523.81,192.31 523.95,214.69 524.15,196.62 524.29,215.53 524.49,199.41 524.63,210.62 524.83,213.82 524.96,193.94 525.17,218.63 525.30,199.80 525.51,201.25 525.64,216.20 525.85,210.68 525.98,198.66 526.18,200.61 526.32,210.28 526.52,213.01 526.66,197.55 526.86,223.92 527.00,196.46 527.20,213.69 527.34,200.98 527.54,217.28 527.67,200.54 527.88,194.49 528.01,213.87 528.22,193.35 528.35,213.08 528.56,196.23 528.69,216.63 528.89,197.04 529.03,214.94 529.23,198.81 529.37,213.25 529.57,198.01 529.71,214.63 529.91,200.98 530.05,212.38 530.25,213.46 530.39,199.47 530.59,202.35 530.72,212.95 530.93,199.71 531.06,213.43 531.27,196.63 531.40,211.35 531.61,196.12 531.74,214.14 531.94,212.52 532.08,197.15 532.28,199.50 532.42,216.13 532.62,213.39 532.76,200.29 532.96,214.48 533.10,202.95 533.30,199.62 533.43,212.16 533.64,212.62 533.77,194.13 533.98,199.95 534.11,214.80 534.32,216.11 534.45,198.32 534.65,187.43 534.79,213.60 534.99,201.66 535.13,215.94 535.33,196.63 535.40,182.50 535.47,214.51 535.50,246.50" fill="none" stroke="#ffa500" stroke-width="0.8" stroke-linejoin="round" />
<path d="M318.07 217.61h0M318.27 223.96h0M319.28 182.83h0M319.76 194.37h0M320.30 214.75h0M320.77 197.16h0M321.44 201.27h0M321.65 219.28h0M323.33 184.32h0M324.15 200.57h0M324.35 199.47h0M324.82 213.42h0M326.04 193.65h0M328.20 223.02h0M328.40 197.28h0M329.75 197.26h0M332.25 199.69h0M333.13 216.57h0M333.46 193.83h0M333.94 215.93h0M334.81 193.15h0M334.95 215.96h0M336.30 199.06h0M336.50 187.39h0M337.85 197.45h0M338.33 210.06h0M339.00 220.78h0M339.54 215.93h0M339.68 197.04h0M340.01 219.41h0M340.55 195.12h0M341.03 192.29h0M341.37 216.48h0M342.04 199.34h0M342.58 214.94h0M342.92 220.57h0M343.26 194.00h0M343.59 221.09h0M344.27 190.94h0M344.61 213.03h0M345.08 196.43h0M345.62 226.03h0M346.09 221.28h0M346.29 213.90h0M346.63 214.22h0M348.83 201.16h0M349.17 213.75h0M349.50 213.16h0M349.64 194.38h0M349.97 200.06h0M350.30 215.67h0M350.50 199.59h0M351.17 212.49h0M352.64 218.45h0M353.18 196.81h0M353.51 218.48h0M353.85 221.98h0M355.18 213.43h0M355.52 198.82h0M355.85 216.86h0M356.19 199.88h0M356.32 216.25h0M356.86 212.35h0M357.19 195.20h0M357.99 214.05h0M359.00 195.76h0M359.66 218.54h0M360.20 209.98h0M360.33 198.54h0M360.87 198.70h0M361.67 211.01h0M362.20 193.33h0M362.54 214.69h0M362.67 203.46h0M363.21 217.45h0M363.34 200.71h0M366.02 195.98h0M366.55 209.30h0M368.02 213.23h0M369.69 195.40h0M369.89 189.10h0M370.36 191.01h0M371.90 209.45h0M373.04 216.31h0M373.24 211.35h0M373.37 196.55h0M373.70 212.31h0M373.91 191.81h0M374.24 193.64h0M374.37 208.00h0M375.58 211.64h0M376.71 193.15h0M377.05 193.83h0M377.72 208.72h0M378.92 210.60h0M379.39 194.77h0M379.59 208.68h0M379.72 186.04h0M379.92 194.34h0M380.26 197.26h0M380.72 212.03h0M382.26 210.60h0M382.60 199.92h0M383.27 195.06h0M383.60 183.39h0M383.73 209.67h0M384.27 216.91h0M384.74 220.64h0M385.07 190.76h0M385.27 209.32h0M385.94 208.34h0M386.74 191.95h0M387.28 199.19h0M389.08 198.91h0M389.95 214.55h0M390.62 208.83h0M390.75 194.32h0M390.95 223.69h0M391.29 213.31h0M391.62 214.51h0M391.96 193.31h0M395.63 199.56h0M395.77 216.77h0M395.97 203.54h0M396.30 199.25h0M396.77 197.56h0M397.10 219.97h0M397.44 201.89h0M398.64 214.90h0M398.78 197.34h0M399.31 222.34h0M399.78 201.00h0M400.11 217.00h0M402.65 199.06h0M402.79 216.45h0M404.33 218.81h0M404.66 217.08h0M404.99 200.89h0M405.13 225.20h0M405.33 218.60h0M406.13 200.31h0M406.33 200.05h0M406.80 193.28h0M407.00 201.70h0M407.13 220.34h0M407.47 204.17h0M408.00 220.49h0M411.15 216.62h0M411.48 199.91h0M411.68 219.63h0M412.35 216.50h0M413.69 217.23h0M413.82 199.44h0M414.02 213.97h0M414.49 220.12h0M415.69 216.49h0M417.16 213.49h0M417.50 197.66h0M418.17 197.43h0M418.37 215.19h0M420.37 200.25h0M420.51 213.37h0M420.71 197.79h0M421.17 197.59h0M421.37 217.10h0M421.51 198.98h0M421.71 217.24h0M422.04 198.53h0M423.05 196.33h0M423.71 197.86h0M424.52 214.77h0M426.39 216.95h0M426.52 190.90h0M426.72 213.95h0M427.73 212.85h0M428.53 200.80h0M430.07 213.77h0M430.20 202.20h0M430.73 199.80h0M430.87 215.53h0M431.20 216.16h0M431.40 211.34h0M431.87 194.58h0M432.07 212.95h0M433.74 210.47h0M434.55 219.00h0M435.08 200.50h0M435.55 197.78h0M436.08 190.82h0M436.55 194.79h0M437.55 218.93h0M438.09 200.92h0M438.42 216.40h0M439.23 213.04h0M439.56 199.22h0M440.56 214.54h0M441.43 213.49h0M441.77 216.98h0M442.23 194.75h0M445.11 199.72h0M445.24 216.69h0M446.58 216.16h0M447.25 219.27h0M447.45 214.27h0M447.92 194.81h0M448.12 213.05h0M448.59 196.66h0M451.13 197.25h0M451.46 219.16h0M451.59 201.73h0M451.80 203.49h0M452.13 221.63h0M452.26 198.19h0M452.80 211.99h0M453.27 197.61h0M453.47 196.64h0M453.60 212.94h0M454.14 195.81h0M454.27 213.26h0M454.94 201.31h0M457.48 190.90h0M458.28 202.27h0M458.48 195.52h0M459.48 216.52h0M459.62 194.31h0M460.29 212.89h0M461.96 212.54h0M463.16 193.15h0M463.83 220.32h0M464.30 199.26h0M464.50 197.00h0M464.83 198.43h0M464.97 212.58h0M465.84 200.37h0M465.97 211.89h0M466.30 202.05h0M467.17 200.56h0M467.31 213.47h0M468.51 215.21h0M469.51 214.40h0M469.98 216.31h0M470.18 220.35h0M470.65 213.71h0M471.99 217.37h0M472.52 188.96h0M473.86 195.71h0M474.19 212.78h0M474.66 211.06h0M475.86 196.74h0M476.20 212.98h0M476.53 221.87h0M476.67 192.60h0M477.00 198.46h0M479.34 217.68h0M479.68 216.86h0M480.34 198.77h0M482.35 217.64h0M482.55 224.89h0M482.68 197.82h0M482.88 203.81h0M483.22 220.33h0M484.56 215.60h0M484.69 201.55h0M484.89 194.55h0M485.02 215.81h0M485.22 218.23h0M485.56 198.93h0M486.70 197.05h0M486.90 199.23h0M487.90 213.82h0M488.03 200.60h0M493.68 213.20h0M493.92 203.43h0M507.35 217.90h0M509.58 210.47h0M510.06 212.29h0M510.26 197.96h0M511.07 214.16h0M513.11 212.95h0M513.44 199.54h0M513.99 218.90h0M515.82 214.71h0M516.70 211.64h0M516.83 198.35h0M517.71 226.28h0M518.19 201.66h0M518.53 212.58h0M518.73 212.30h0M518.87 196.55h0M519.20 200.35h0M519.75 212.36h0M520.09 200.20h0M520.42 187.47h0M521.44 199.05h0M521.58 215.19h0M521.91 217.28h0M522.93 198.32h0M524.49 199.41h0M525.64 216.20h0M526.32 210.28h0M526.52 213.01h0M526.86 223.92h0M527.88 194.49h0M528.56 196.23h0M530.05 212.38h0M530.39 199.47h0M530.59 202.35h0M531.27 196.63h0M532.08 197.15h0M532.62 213.39h0M534.32 216.11h0M534.65 187.43h0M318.10 185.00h0M321.40 228.20h0M340.00 228.20h0M373.00 186.50h0M409.30 228.20h0M424.60 194.50h0M461.50 235.00h0M477.70 177.90h0M480.30 237.90h0M485.80 193.40h0M488.90 219.60h0M489.00 157.30h0M489.10 205.00h0M491.10 194.00h0M491.20 157.00h0M491.30 194.00h0M492.40 190.00h0M492.50 160.00h0M492.60 200.00h0M495.50 201.00h0M495.60 159.00h0M495.70 195.00h0M496.60 158.00h0M496.70 185.00h0M497.50 157.30h0M498.00 158.80h0M506.40 205.00h0M506.70 243.40h0M507.20 244.20h0M535.40 182.50h0M535.50 246.50h0" stroke="#ffa500" stroke-width="1.0" stroke-linecap="round" fill="none"/>
<rect x="306.8" y="153.6" width="239.50" height="96.80" fill="none" stroke="#4a4a4a" stroke-width="0.6"/>
<text x="315.00" y="259.60" font-size="7.4" text-anchor="middle" textLength="13.80" lengthAdjust="spacingAndGlyphs">2000</text>
<text x="363.10" y="259.60" font-size="7.4" text-anchor="middle" textLength="13.80" lengthAdjust="spacingAndGlyphs">2005</text>
<text x="411.20" y="259.60" font-size="7.4" text-anchor="middle" textLength="13.80" lengthAdjust="spacingAndGlyphs">2010</text>
<text x="459.30" y="259.60" font-size="7.4" text-anchor="middle" textLength="13.80" lengthAdjust="spacingAndGlyphs">2015</text>
<text x="507.40" y="259.60" font-size="7.4" text-anchor="middle" textLength="13.80" lengthAdjust="spacingAndGlyphs">2020</text>
<text x="303.90" y="169.80" font-size="7.4" text-anchor="end" textLength="15.80" lengthAdjust="spacingAndGlyphs">0.010</text>
<text x="303.90" y="189.80" font-size="7.4" text-anchor="end" textLength="15.80" lengthAdjust="spacingAndGlyphs">0.005</text>
<text x="303.90" y="209.80" font-size="7.4" text-anchor="end" textLength="15.80" lengthAdjust="spacingAndGlyphs">0.000</text>
<text x="303.90" y="229.80" font-size="7.4" text-anchor="end" textLength="18.60" lengthAdjust="spacingAndGlyphs">−0.005</text>
<text x="303.90" y="249.80" font-size="7.4" text-anchor="end" textLength="19.20" lengthAdjust="spacingAndGlyphs">−0.010</text>
<path d="M315.00 250.4v1.4M363.10 250.4v1.4M411.20 250.4v1.4M459.30 250.4v1.4M507.40 250.4v1.4M306.8 166.50h-1.4M306.8 186.50h-1.4M306.8 206.50h-1.4M306.8 226.50h-1.4M306.8 246.50h-1.4" stroke="#4a4a4a" stroke-width="0.45" fill="none"/>
<text x="426.55" y="151.90" font-size="8.0" text-anchor="middle" textLength="53.40" lengthAdjust="spacingAndGlyphs">North: Residuals</text>
<text x="426.55" y="268.30" font-size="8.0" text-anchor="middle" textLength="43.30" lengthAdjust="spacingAndGlyphs">Epoch (years)</text>
<text transform="translate(280.9,202.60) rotate(-90)" x="0" y="0" font-size="8.0" text-anchor="middle" textLength="43.6" lengthAdjust="spacingAndGlyphs">Residuals (m)</text>
<rect x="309.1" y="156.4" width="44.60" height="8.80" rx="1" fill="#ffffff" fill-opacity="0.8" stroke="#d0d0d0" stroke-width="0.45"/>
<path d="M311.1 160.5H322.9" stroke="#ffa500" stroke-width="0.7"/>
<circle cx="317.00" cy="160.5" r="0.9" fill="#ffa500"/>
<text x="327.50" y="162.80" font-size="6.2" textLength="23.60" lengthAdjust="spacingAndGlyphs">Residuals</text>
<text x="224.60" y="11.80" font-size="11.6" textLength="100.50" lengthAdjust="spacingAndGlyphs">Lago (LAGO) - IGS -</text>
</svg>
</body></html>
